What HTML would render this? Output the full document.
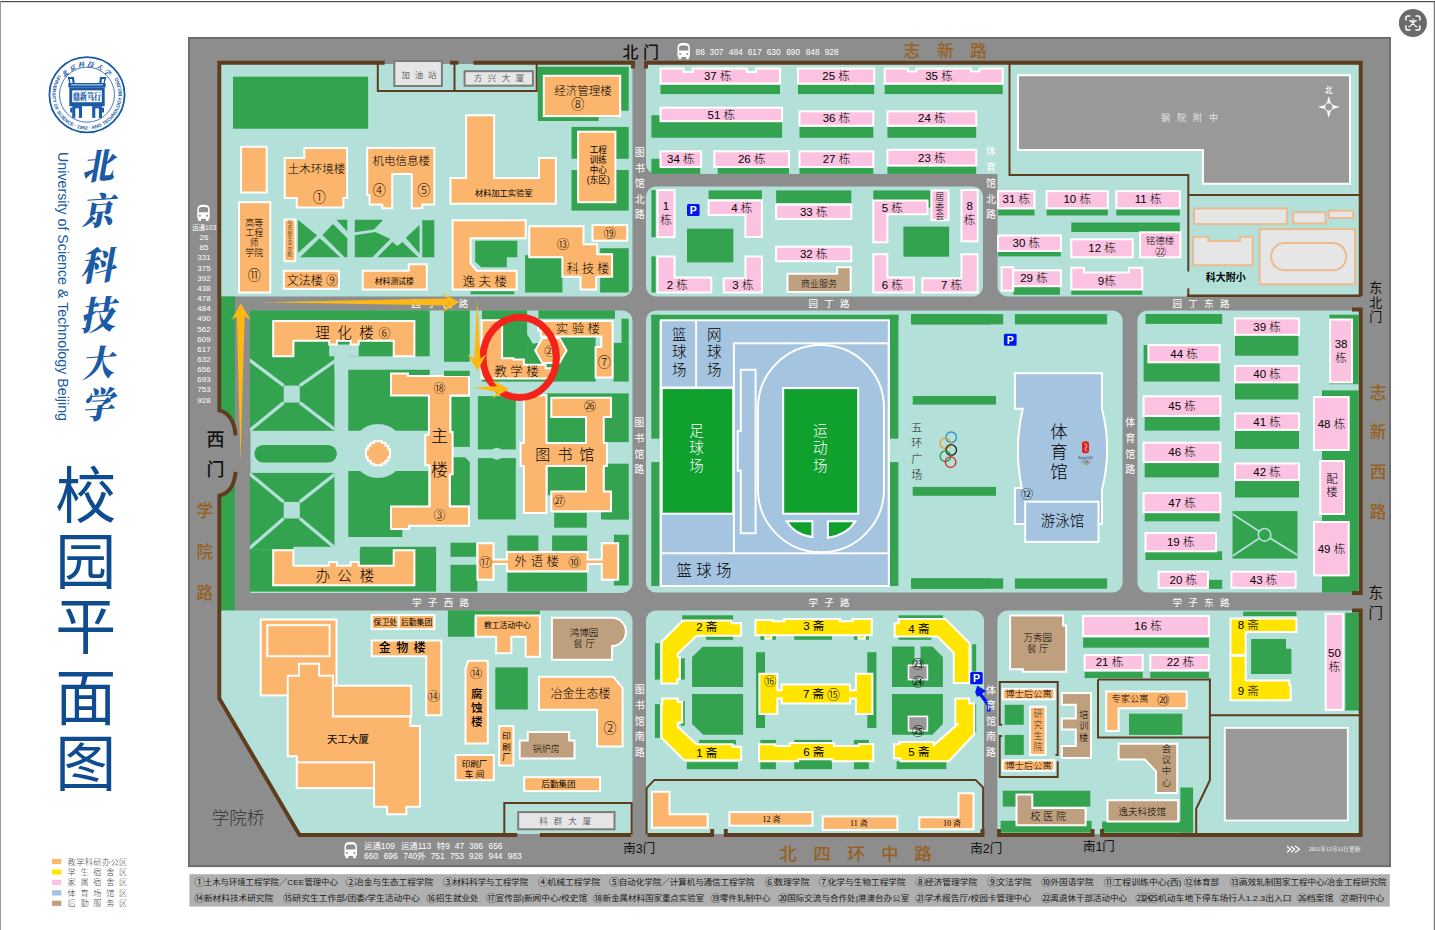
<!DOCTYPE html>
<html lang="zh"><head><meta charset="utf-8"><title>北京科技大学 校园平面图</title>
<style>
html,body{margin:0;padding:0;background:#fff;overflow:hidden}
svg{display:block}
svg text{font-family:"Liberation Sans","Noto Sans CJK SC",sans-serif}
</style></head><body>
<svg font-weight="300" width="1435" height="930" viewBox="0 0 1435 930">
<rect x="0" y="0" width="1435" height="930" fill="#fff"/>
<rect x="0" y="1" width="1435" height="1.2" fill="#484848"/>
<rect x="0" y="1" width="1" height="929" fill="#9a9a9a"/>
<rect x="1433.800" y="1" width="1" height="929" fill="#5a5a5a"/>
<rect x="188.900" y="37.900" width="1201.200" height="828.300" fill="#8d8d8d" stroke="#6a6a6a" stroke-width="1.800"/>
<rect x="189.400" y="874.200" width="1200.400" height="32.400" fill="#b0b0b0"/>
<path d="M223.6 64H632.5V286.5A10 10 0 0 1 622.5 296.5H220.6V67A3 3 0 0 1 223.6 64Z" fill="#b3e0d8"/>
<path d="M646 64H1359V296.5H1007.5A10 10 0 0 1 997.5 286.5V174H656A10 10 0 0 1 646 164Z" fill="#b3e0d8"/>
<path d="M656 186.5H973A10 10 0 0 1 983 196.5V286.5A10 10 0 0 1 973 296.5H656A10 10 0 0 1 646 286.5V196.5A10 10 0 0 1 656 186.5Z" fill="#b3e0d8"/>
<rect x="220.6" y="296.5" width="14.4" height="314" fill="#33a34f"/>
<path d="M250.5 310.5H622.5A10 10 0 0 1 632.5 320.5V583A10 10 0 0 1 622.5 593H250.5V310.5Z" fill="#b3e0d8"/>
<path d="M656 310.5H1112.6A10 10 0 0 1 1122.6 320.5V582.5A10 10 0 0 1 1112.6 592.5H656A10 10 0 0 1 646 582.5V320.5A10 10 0 0 1 656 310.5Z" fill="#b3e0d8"/>
<path d="M1147.4 310.5H1359V592.5H1147.4A10 10 0 0 1 1137.4 582.5V320.5A10 10 0 0 1 1147.4 310.5Z" fill="#b3e0d8"/>
<path d="M220.6 610.5H622.5A10 10 0 0 1 632.5 620.5V834H300L220.6 700Z" fill="#b3e0d8"/>
<path d="M656 610.5H974A10 10 0 0 1 984 620.5V834H646V620.5A10 10 0 0 1 656 610.5Z" fill="#b3e0d8"/>
<path d="M1007.4 610.5H1359V834H997.4V620.5A10 10 0 0 1 1007.4 610.5Z" fill="#b3e0d8"/>
<polyline points="377.8,64 377.8,91.1 536.7,91.1 536.7,64" fill="none" stroke="#5e3d1e" stroke-width="2"/>
<polyline points="454.5,61.6 454.5,91.1" fill="none" stroke="#5e3d1e" stroke-width="2"/>
<rect x="394.3" y="61" width="47.6" height="25" fill="#e6e6e6" stroke="#7c7c7c" stroke-width="2"/>
<rect x="464.6" y="71.2" width="68.3" height="14.5" fill="#e6e6e6" stroke="#7c7c7c" stroke-width="2"/>
<text x="419.6" y="77.9" font-size="8.5" fill="#666" text-anchor="middle" font-weight="400" letter-spacing="1.2">加 油 站</text>
<text x="499.8" y="81.2" font-size="8.5" fill="#666" text-anchor="middle" font-weight="400" letter-spacing="1.6">方 兴 大 厦</text>
<rect x="233" y="76.7" width="135.1" height="52" fill="#33a34f"/>
<rect x="241.1" y="146.8" width="25.6" height="45.7" fill="#fbb56c" stroke="#ffffff" stroke-width="2.0"/>
<polygon points="284.7,157.9 304.3,157.9 304.3,148 347.1,148 347.1,198 343.4,198 343.4,207.6 296.8,207.6 296.8,198 284.7,198" fill="#fbb56c" stroke="#ffffff" stroke-width="2.0"/>
<text x="316.4" y="173.3" font-size="11.5" fill="#000" text-anchor="middle">土木环境楼</text>
<text x="319.4" y="201.6" font-size="13.1" fill="#000" text-anchor="middle">①</text>
<polygon points="367.2,148 434.3,148 434.3,204.6 422.3,204.6 422.3,208.2 411.8,208.2 411.8,173.9 392.2,173.9 392.2,208.2 382.3,208.2 382.3,204.6 369.6,204.6 369.6,195 367.2,195" fill="#fbb56c" stroke="#ffffff" stroke-width="2.0"/>
<text x="401.2" y="164.5" font-size="11.5" fill="#000" text-anchor="middle">机电信息楼</text>
<text x="379.3" y="195.2" font-size="13.1" fill="#000" text-anchor="middle">④</text>
<text x="423.8" y="195.2" font-size="13.1" fill="#000" text-anchor="middle">⑤</text>
<polygon points="466.1,115.2 494.1,115.2 494.1,178.1 539,178.1 539,157.9 555.8,157.9 555.8,203.7 450.5,203.7 450.5,178.1 466.1,178.1" fill="#fbb56c" stroke="#ffffff" stroke-width="2.0"/>
<text x="503.7" y="195.9" font-size="8.2" fill="#000" text-anchor="middle" font-weight="400">材料加工实验室</text>
<rect x="239" y="202.2" width="31.3" height="90.3" fill="#fbb56c" stroke="#ffffff" stroke-width="2.0"/>
<text x="254.3" y="225.7" font-size="9" fill="#000" text-anchor="middle">高等</text>
<text x="254.3" y="235.6" font-size="9" fill="#000" text-anchor="middle">工程</text>
<text x="254.3" y="245.5" font-size="9" fill="#000" text-anchor="middle">师</text>
<text x="254.3" y="255.5" font-size="9" fill="#000" text-anchor="middle">学院</text>
<text x="254.3" y="280.4" font-size="13.1" fill="#000" text-anchor="middle">⑪</text>
<rect x="284.4" y="219.6" width="10.9" height="41.6" fill="#fbb56c" stroke="#ffffff" stroke-width="2.0"/>
<text x="289.9" y="224.1" font-size="4.6" fill="#333" text-anchor="middle" font-weight="400">马</text>
<text x="289.9" y="229.4" font-size="4.6" fill="#333" text-anchor="middle" font-weight="400">克</text>
<text x="289.9" y="234.7" font-size="4.6" fill="#333" text-anchor="middle" font-weight="400">思</text>
<text x="289.9" y="240" font-size="4.6" fill="#333" text-anchor="middle" font-weight="400">主</text>
<text x="289.9" y="245.3" font-size="4.6" fill="#333" text-anchor="middle" font-weight="400">义</text>
<text x="289.9" y="250.6" font-size="4.6" fill="#333" text-anchor="middle" font-weight="400">学</text>
<text x="289.9" y="255.9" font-size="4.6" fill="#333" text-anchor="middle" font-weight="400">院</text>
<polygon points="297.9,219.8 317.1,235.6 297.9,253.1" fill="#33a34f"/>
<polygon points="300.1,257.3 319.7,238.2 340.2,257.3" fill="#33a34f"/>
<polygon points="322.5,234.9 333,223.9 347.3,238.2 347.3,257.3 344.7,257.3" fill="#33a34f"/>
<polygon points="336.4,219.8 347.3,219.8 347.3,231.5" fill="#33a34f"/>
<polygon points="354.8,219.8 383.2,219.8 374,229.4 354.8,232.2" fill="#33a34f"/>
<polygon points="354.8,235.2 375.4,231.9 390.4,238.9 372.3,257.3 354.8,257.3" fill="#33a34f"/>
<polygon points="377.4,257.3 392.4,241.9 397.4,246.1 402.4,241.9 418.3,257.3" fill="#33a34f"/>
<polygon points="405.8,237.7 419.5,224.9 419.5,253.6" fill="#33a34f"/>
<rect x="422.3" y="220.2" width="12" height="37.1" fill="#33a34f"/>
<rect x="283.8" y="270.8" width="55.1" height="18.1" fill="#fbb56c" stroke="#ffffff" stroke-width="2.0"/>
<text x="312.4" y="285.3" font-size="12" fill="#000" text-anchor="middle">文法楼 ⑨</text>
<polygon points="362.7,270.8 408.8,270.8 408.8,264.2 426.8,264.2 426.8,289.5 362.7,289.5" fill="#fbb56c" stroke="#ffffff" stroke-width="2.0"/>
<text x="394.3" y="283.7" font-size="7.8" fill="#000" text-anchor="middle" font-weight="400">材料测试楼</text>
<rect x="470.6" y="291.3" width="43.7" height="3" fill="#33a34f"/>
<rect x="525.1" y="255.2" width="37.3" height="37.3" fill="#33a34f"/>
<polygon points="452.6,220.2 525.7,220.2 525.7,238.3 470.6,238.3 470.6,263.3 476.7,270.8 516.7,270.8 516.7,289.5 452.6,289.5" fill="#fbb56c" stroke="#ffffff" stroke-width="2.0"/>
<polygon points="475.2,240.7 517.3,240.7 517.3,257.3 506.8,257.3 506.8,267.2 481.2,267.2 475.2,261.8" fill="#33a34f"/>
<text x="484.8" y="285.9" font-size="12.5" fill="#000" text-anchor="middle">逸 夫 楼</text>
<rect x="600.1" y="248.2" width="28.6" height="44.3" fill="#33a34f"/>
<polygon points="529.3,226.3 583.5,226.3 583.5,244.3 597.1,244.3 597.1,254.2 612.1,254.2 612.1,276.8 596.2,276.8 596.2,289.5 580.5,289.5 580.5,276.8 562.4,276.8 562.4,257.3 529.3,257.3" fill="#fbb56c" stroke="#ffffff" stroke-width="2.0"/>
<text x="563" y="248.5" font-size="12.5" fill="#000" text-anchor="middle">⑬</text>
<text x="588" y="272.6" font-size="12" fill="#000" text-anchor="middle">科 技 楼</text>
<rect x="592.5" y="225.1" width="34.7" height="15.6" fill="#fbb56c" stroke="#ffffff" stroke-width="2.0"/>
<text x="609.7" y="238.3" font-size="12.5" fill="#000" text-anchor="middle">⑲</text>
<polygon points="537.8,66.7 628.7,66.7 628.7,110.7 616.6,110.7 616.6,117.3 598.6,117.3 598.6,120.9 537.8,120.9" fill="#33a34f"/>
<rect x="543.8" y="75.8" width="76.4" height="40.3" fill="#fbb56c" stroke="#ffffff" stroke-width="2.0"/>
<text x="582.9" y="95.3" font-size="11.5" fill="#000" text-anchor="middle">经济管理楼</text>
<text x="577.8" y="108.9" font-size="13.1" fill="#000" text-anchor="middle">⑧</text>
<rect x="571.5" y="126.9" width="57.2" height="31.9" fill="#33a34f"/>
<rect x="571.5" y="170" width="57.2" height="40.6" fill="#33a34f"/>
<rect x="578.1" y="131.7" width="37.3" height="70.5" fill="#fbb56c" stroke="#ffffff" stroke-width="2.0"/>
<text x="598.3" y="153.4" font-size="8.6" fill="#000" text-anchor="middle" font-weight="400">工程</text>
<text x="598.3" y="163.3" font-size="8.6" fill="#000" text-anchor="middle" font-weight="400">训练</text>
<text x="598.3" y="173.3" font-size="8.6" fill="#000" text-anchor="middle" font-weight="400">中心</text>
<text x="598.3" y="183.2" font-size="8.6" fill="#000" text-anchor="middle" font-weight="400">(东区)</text>
<rect x="660.5" y="84.8" width="119.5" height="9.3" fill="#33a34f"/>
<polygon points="660.5,68.5 683.6,68.5 683.6,72.1 692.7,72.1 692.7,68.5 746.9,68.5 746.9,72.1 755.9,72.1 755.9,68.5 780,68.5 780,83.6 660.5,83.6" fill="#fcc2e2" stroke="#ffffff" stroke-width="2.0"/>
<text x="717.7" y="80" font-size="11.5" fill="#000" text-anchor="middle">37 栋</text>
<rect x="798" y="84.8" width="76.2" height="9.3" fill="#33a34f"/>
<rect x="798" y="68.5" width="76.2" height="15.1" fill="#fcc2e2" stroke="#ffffff" stroke-width="2.0"/>
<text x="836.1" y="80" font-size="11.5" fill="#000" text-anchor="middle">25 栋</text>
<rect x="884.7" y="84.8" width="118" height="9.3" fill="#33a34f"/>
<polygon points="884.7,68.5 907.9,68.5 907.9,71.5 916.3,71.5 916.3,68.5 971.1,68.5 971.1,71.5 979.5,71.5 979.5,68.5 1002.7,68.5 1002.7,83.6 884.7,83.6" fill="#fcc2e2" stroke="#ffffff" stroke-width="2.0"/>
<text x="938.9" y="80" font-size="11.5" fill="#000" text-anchor="middle">35 栋</text>
<polygon points="651.4,115.2 660.5,115.2 660.5,121.2 782.1,121.2 782.1,137.8 651.4,137.8" fill="#33a34f"/>
<rect x="660.5" y="107.7" width="121.6" height="13.5" fill="#fcc2e2" stroke="#ffffff" stroke-width="2.0"/>
<text x="721.3" y="118.5" font-size="11.5" fill="#000" text-anchor="middle">51 栋</text>
<rect x="799.5" y="126.9" width="73.8" height="10.9" fill="#33a34f"/>
<rect x="799.5" y="111.3" width="73.8" height="14.4" fill="#fcc2e2" stroke="#ffffff" stroke-width="2.0"/>
<text x="836.4" y="122.4" font-size="11.5" fill="#000" text-anchor="middle">36 栋</text>
<rect x="887.4" y="126.9" width="88.8" height="10.9" fill="#33a34f"/>
<rect x="887.4" y="111.3" width="88.8" height="14.4" fill="#fcc2e2" stroke="#ffffff" stroke-width="2.0"/>
<text x="931.8" y="122.4" font-size="11.5" fill="#000" text-anchor="middle">24 栋</text>
<rect x="651.4" y="158.8" width="48.8" height="15.1" fill="#33a34f"/>
<rect x="660.5" y="151.3" width="40.6" height="15.7" fill="#fcc2e2" stroke="#ffffff" stroke-width="2.0"/>
<text x="680.8" y="163" font-size="11.5" fill="#000" text-anchor="middle">34 栋</text>
<rect x="717.7" y="167.9" width="71.3" height="6" fill="#33a34f"/>
<rect x="714.3" y="151.3" width="74.7" height="15.7" fill="#fcc2e2" stroke="#ffffff" stroke-width="2.0"/>
<text x="751.7" y="163" font-size="11.5" fill="#000" text-anchor="middle">26 栋</text>
<rect x="799.5" y="167.9" width="73.8" height="6" fill="#33a34f"/>
<rect x="799.5" y="151.3" width="73.8" height="15.7" fill="#fcc2e2" stroke="#ffffff" stroke-width="2.0"/>
<text x="836.4" y="163" font-size="11.5" fill="#000" text-anchor="middle">27 栋</text>
<rect x="887.4" y="166.4" width="88.8" height="7.5" fill="#33a34f"/>
<rect x="887.4" y="149.8" width="88.8" height="15.7" fill="#fcc2e2" stroke="#ffffff" stroke-width="2.0"/>
<text x="931.8" y="161.5" font-size="11.5" fill="#000" text-anchor="middle">23 栋</text>
<rect x="651.4" y="190.1" width="4.3" height="47" fill="#33a34f"/>
<rect x="657.5" y="190.1" width="17.1" height="47" fill="#fcc2e2" stroke="#ffffff" stroke-width="2.0"/>
<text x="665.9" y="210" font-size="11.5" fill="#000" text-anchor="middle">1</text>
<text x="665.9" y="224.4" font-size="11.5" fill="#000" text-anchor="middle">栋</text>
<rect x="687" y="204" width="12.6" height="12" fill="#0018f0" rx="1.5"/>
<text x="693.3" y="214.2" font-size="10.5" fill="#fff" text-anchor="middle" font-weight="bold">P</text>
<rect x="708.6" y="190.4" width="53.3" height="8.8" fill="#33a34f"/>
<polygon points="708.6,200.4 761.9,200.4 761.9,237.1 745.4,237.1 745.4,215.1 708.6,215.1" fill="#fcc2e2" stroke="#ffffff" stroke-width="2.0"/>
<text x="741.7" y="211.5" font-size="11.5" fill="#000" text-anchor="middle">4 栋</text>
<rect x="687" y="228.7" width="46.3" height="33.7" fill="#33a34f"/>
<rect x="651.4" y="256.4" width="4.3" height="36.1" fill="#33a34f"/>
<polygon points="657.5,256.4 674.6,256.4 674.6,277.4 711.3,277.4 711.3,292.5 657.5,292.5" fill="#fcc2e2" stroke="#ffffff" stroke-width="2.0"/>
<text x="677.3" y="289.2" font-size="11.5" fill="#000" text-anchor="middle">2 栋</text>
<polygon points="745.4,256.4 761.9,256.4 761.9,292.5 723.7,292.5 723.7,278.3 745.4,278.3" fill="#fcc2e2" stroke="#ffffff" stroke-width="2.0"/>
<text x="742.9" y="289.2" font-size="11.5" fill="#000" text-anchor="middle">3 栋</text>
<rect x="776.1" y="190.4" width="75.2" height="12.7" fill="#33a34f"/>
<rect x="776.1" y="204.6" width="75.2" height="14.4" fill="#fcc2e2" stroke="#ffffff" stroke-width="2.0"/>
<text x="813.7" y="215.7" font-size="11.5" fill="#000" text-anchor="middle">33 栋</text>
<rect x="776.1" y="246.7" width="75.2" height="14.5" fill="#fcc2e2" stroke="#ffffff" stroke-width="2.0"/>
<text x="813.7" y="257.9" font-size="11.5" fill="#000" text-anchor="middle">32 栋</text>
<polygon points="787.5,273.8 837.2,273.8 837.2,267.2 850.7,267.2 850.7,291.9 787.5,291.9" fill="#bfa07e" stroke="#ffffff" stroke-width="2.0"/>
<text x="819.1" y="286.5" font-size="9" fill="#000" text-anchor="middle">商业服务</text>
<rect x="873.3" y="190.4" width="58.1" height="17.2" fill="#33a34f"/>
<polygon points="873.3,200.4 927.5,200.4 927.5,214.2 887.4,214.2 887.4,242.2 873.3,242.2" fill="#fcc2e2" stroke="#ffffff" stroke-width="2.0"/>
<text x="892.2" y="211.5" font-size="11.5" fill="#000" text-anchor="middle">5 栋</text>
<rect x="931.4" y="190.4" width="17.1" height="29.8" fill="#fcc2e2" stroke="#ffffff" stroke-width="2.0"/>
<text x="939.8" y="200.4" font-size="9" fill="#000" text-anchor="middle" font-weight="300">居</text>
<text x="939.8" y="209.9" font-size="9" fill="#000" text-anchor="middle" font-weight="300">委</text>
<text x="939.8" y="219.4" font-size="9" fill="#000" text-anchor="middle" font-weight="300">会</text>
<rect x="961.5" y="190.1" width="16.2" height="51.2" fill="#fcc2e2" stroke="#ffffff" stroke-width="2.0"/>
<text x="969.6" y="210" font-size="11.5" fill="#000" text-anchor="middle">8</text>
<text x="969.6" y="224.4" font-size="11.5" fill="#000" text-anchor="middle">栋</text>
<rect x="903.4" y="226.6" width="45.7" height="30.1" fill="#33a34f"/>
<polygon points="873.3,254.2 887.4,254.2 887.4,277.4 913.9,277.4 913.9,292.5 873.3,292.5" fill="#fcc2e2" stroke="#ffffff" stroke-width="2.0"/>
<text x="892.2" y="289.2" font-size="11.5" fill="#000" text-anchor="middle">6 栋</text>
<polygon points="961.5,254.2 977.7,254.2 977.7,292.5 922.3,292.5 922.3,278.3 961.5,278.3" fill="#fcc2e2" stroke="#ffffff" stroke-width="2.0"/>
<text x="951.5" y="289.2" font-size="11.5" fill="#000" text-anchor="middle">7 栋</text>
<polyline points="1009.5,61.7 1009.5,174.9 1188.3,174.9 1188.3,271.6" fill="none" stroke="#5e3d1e" stroke-width="2"/>
<polyline points="1188.3,288.4 1188.3,296.3" fill="none" stroke="#5e3d1e" stroke-width="2"/>
<polyline points="1188.3,194.9 1360.5,194.9" fill="none" stroke="#5e3d1e" stroke-width="2"/>
<polygon points="1018,75.3 1350,75.3 1350,183.8 1202.9,183.8 1202.9,149.9 1018,149.9" fill="#999999" stroke="#ffffff" stroke-width="2.0"/>
<text x="1193.1" y="121.3" font-size="9" fill="#e6e6e6" text-anchor="middle" font-weight="400" letter-spacing="7">钢院附中</text>
<g fill="#fff" stroke="none"><polygon points="1328.8,96.0 1326.6,104.0 1331.0,104.0"/><polygon points="1328.8,118.0 1326.6,110.0 1331.0,110.0"/><polygon points="1317.8,107.0 1325.8,104.8 1325.8,109.2"/><polygon points="1339.8,107.0 1331.8,104.8 1331.8,109.2"/></g>
<circle cx="1328.8" cy="107.0" r="4.2" fill="#999" stroke="#fff" stroke-width="1"/>
<text x="1328.8" y="92.8" font-size="7.5" fill="#fff" text-anchor="middle" font-weight="500">北</text>
<rect x="1194" y="208.5" width="92.9" height="15.6" fill="#e6e6e6" stroke="#ebba8d" stroke-width="2"/>
<rect x="1293.3" y="212.3" width="32.3" height="11.1" fill="#e6e6e6" stroke="#ebba8d" stroke-width="2"/>
<rect x="1328.8" y="210.7" width="24.4" height="7.3" fill="#e6e6e6" stroke="#ebba8d" stroke-width="2"/>
<rect x="1259.7" y="229.1" width="95.4" height="55.2" fill="#e6e6e6" stroke="#ebba8d" stroke-width="2"/>
<rect x="1271.1" y="243.1" width="75.1" height="27.2" fill="#e6e6e6" stroke="#ebba8d" stroke-width="2" rx="13.5"/>
<polygon points="1193.1,236.7 1208.3,236.7 1208.3,240.9 1240,240.9 1240,236.7 1252.7,236.7 1252.7,265.3 1193.1,265.3" fill="#e6e6e6" stroke="#ebba8d" stroke-width="2"/>
<text x="1225.7" y="281.4" font-size="10" fill="#000" text-anchor="middle" font-weight="bold">科大附小</text>
<rect x="998.1" y="209.5" width="36.4" height="6" fill="#33a34f"/>
<rect x="998.1" y="191.1" width="36.4" height="17.1" fill="#fcc2e2" stroke="#ffffff" stroke-width="2.0"/>
<text x="1016.3" y="203.4" font-size="11.5" fill="#000" text-anchor="middle">31 栋</text>
<rect x="1046.6" y="209.5" width="61.2" height="6" fill="#33a34f"/>
<rect x="1046.6" y="191.1" width="61.2" height="17.1" fill="#fcc2e2" stroke="#ffffff" stroke-width="2.0"/>
<text x="1077.2" y="203.4" font-size="11.5" fill="#000" text-anchor="middle">10 栋</text>
<rect x="1116.3" y="209.5" width="63.5" height="6" fill="#33a34f"/>
<rect x="1116.3" y="191.1" width="63.5" height="17.1" fill="#fcc2e2" stroke="#ffffff" stroke-width="2.0"/>
<text x="1148.1" y="203.4" font-size="11.5" fill="#000" text-anchor="middle">11 栋</text>
<rect x="1071.3" y="222.5" width="108.5" height="9.5" fill="#33a34f"/>
<rect x="998.1" y="252" width="62.8" height="4.4" fill="#33a34f"/>
<rect x="998.1" y="235.5" width="62.8" height="15.5" fill="#fcc2e2" stroke="#ffffff" stroke-width="2.0"/>
<text x="1026.3" y="246.9" font-size="11.5" fill="#000" text-anchor="middle">30 栋</text>
<rect x="1071.3" y="239.3" width="61.5" height="18" fill="#fcc2e2" stroke="#ffffff" stroke-width="2.0"/>
<text x="1102.1" y="252.1" font-size="11.5" fill="#000" text-anchor="middle">12 栋</text>
<rect x="1140.1" y="232.3" width="40.3" height="25" fill="#fcc2e2" stroke="#ffffff" stroke-width="2.0"/>
<text x="1160.1" y="243.7" font-size="9.5" fill="#000" text-anchor="middle">铭德楼</text>
<text x="1160.7" y="256.3" font-size="11.3" fill="#000" text-anchor="middle">㉒</text>
<rect x="1013.3" y="286.8" width="46.6" height="8" fill="#33a34f"/>
<rect x="1001.6" y="267.2" width="11.7" height="23.4" fill="#fcc2e2" stroke="#ffffff" stroke-width="2.0"/>
<rect x="1013.3" y="270.3" width="47.6" height="15.9" fill="#fcc2e2" stroke="#ffffff" stroke-width="2.0"/>
<text x="1033.9" y="282.1" font-size="11.5" fill="#000" text-anchor="middle">29 栋</text>
<rect x="1071.3" y="290" width="71" height="4.8" fill="#33a34f"/>
<polygon points="1071.3,267.8 1084,267.8 1084,272.6 1129,272.6 1129,267.8 1142.3,267.8 1142.3,289.4 1071.3,289.4" fill="#fcc2e2" stroke="#ffffff" stroke-width="2.0"/>
<text x="1106.8" y="285.2" font-size="11.5" fill="#000" text-anchor="middle">9栋</text>
<rect x="249.8" y="310.3" width="179.9" height="46" fill="#33a34f"/>
<rect x="249.8" y="355" width="84.7" height="75.8" fill="#33a34f"/>
<rect x="329.2" y="344.5" width="29.5" height="11.8" fill="#b3e0d8"/>
<rect x="334.5" y="356.3" width="13.7" height="13.2" fill="#b3e0d8"/>
<clipPath id="cg1"><rect x="249.8" y="350" width="84.7" height="81"/></clipPath><g clip-path="url(#cg1)">
<polyline points="248.2,359 283.7,385.6" fill="none" stroke="#b3e0d8" stroke-width="3.3"/>
<polyline points="337.7,359 299.8,385.6" fill="none" stroke="#b3e0d8" stroke-width="3.3"/>
<polyline points="248.2,431.6 283.7,402.6" fill="none" stroke="#b3e0d8" stroke-width="3.3"/>
<polyline points="337.7,431.6 299.8,402.6" fill="none" stroke="#b3e0d8" stroke-width="3.3"/>
<rect x="283.7" y="385.6" width="16.1" height="17" fill="#b3e0d8"/>
</g>
<rect x="335" y="356.3" width="13.2" height="74.5" fill="#b3e0d8"/>
<polygon points="348.2,369.8 429.7,369.8 429.7,430.8 348.2,430.8" fill="#33a34f"/>
<rect x="254.4" y="445" width="82.5" height="17.6" fill="#33a34f" rx="8.8"/>
<rect x="249.8" y="472.9" width="84.7" height="76.3" fill="#33a34f"/>
<clipPath id="cg2"><rect x="249.8" y="472.9" width="84.7" height="78"/></clipPath><g clip-path="url(#cg2)">
<polyline points="246.6,471.3 283.7,501.9" fill="none" stroke="#b3e0d8" stroke-width="3.3"/>
<polyline points="338.5,471.3 299.8,501.9" fill="none" stroke="#b3e0d8" stroke-width="3.3"/>
<polyline points="246.6,550.8 283.7,518.5" fill="none" stroke="#b3e0d8" stroke-width="3.3"/>
<polyline points="338.5,550.8 299.8,518.5" fill="none" stroke="#b3e0d8" stroke-width="3.3"/>
<rect x="283.7" y="501.9" width="16.1" height="16.6" fill="#b3e0d8"/>
</g>
<polygon points="348.2,471 428.1,471 428.1,506.5 391,506.5 391,529 402.3,529 402.3,537.1 348.2,537.1" fill="#33a34f"/>
<circle cx="378" cy="451" r="27" fill="#b3e0d8"/>
<rect x="249.8" y="549.2" width="186.3" height="42.4" fill="#33a34f"/>
<rect x="293.4" y="546.8" width="66.4" height="19" fill="#b3e0d8"/>
<rect x="360.3" y="546.8" width="75.8" height="3.2" fill="#33a34f"/>
<polygon points="273.2,321.1 414.4,321.1 414.4,356.3 393.7,356.3 393.7,340.8 358.7,340.8 358.7,344.5 350.6,344.5 350.6,340.8 336.9,340.8 336.9,344.5 329.2,344.5 329.2,340.8 293.4,340.8 293.4,356.3 273.2,356.3" fill="#fbb56c" stroke="#ffffff" stroke-width="2.0"/>
<text x="322.4" y="337.5" font-size="14.5" fill="#000" text-anchor="middle">理</text>
<text x="344.4" y="337.5" font-size="14.5" fill="#000" text-anchor="middle">化</text>
<text x="366.6" y="337.5" font-size="14.5" fill="#000" text-anchor="middle">楼</text>
<text x="384.6" y="338.2" font-size="12.0" fill="#000" text-anchor="middle">⑥</text>
<polygon points="273.2,550.3 293.4,550.3 293.4,565.8 328.9,565.8 328.9,562.1 336.9,562.1 336.9,565.8 350.6,565.8 350.6,562.1 358.7,562.1 358.7,565.8 393.7,565.8 393.7,550.3 414.4,550.3 414.4,585.2 273.2,585.2" fill="#fbb56c" stroke="#ffffff" stroke-width="2.0"/>
<text x="323" y="580.6" font-size="14.5" fill="#000" text-anchor="middle">办</text>
<text x="344.6" y="580.6" font-size="14.5" fill="#000" text-anchor="middle">公</text>
<text x="366.9" y="580.6" font-size="14.5" fill="#000" text-anchor="middle">楼</text>
<polygon points="382,441.3 382,443.1 385.5,443.1 385.5,445.8 388.2,445.8 388.2,449.3 390,449.3 390,457.3 388.2,457.3 388.2,460.8 385.5,460.8 385.5,463.5 382,463.5 382,465.3 374,465.3 374,463.5 370.5,463.5 370.5,460.8 367.8,460.8 367.8,457.3 366,457.3 366,449.3 367.8,449.3 367.8,445.8 370.5,445.8 370.5,443.1 374,443.1 374,441.3" fill="#fbb56c" stroke="#ffffff" stroke-width="2.0"/>
<rect x="451.3" y="396.9" width="18.5" height="50" fill="#33a34f"/>
<polygon points="451,457.3 465,457.3 469.8,462.1 469.8,505.6 451,505.6" fill="#33a34f"/>
<rect x="477.9" y="396.1" width="37.9" height="53.3" fill="#33a34f"/>
<rect x="477.9" y="458.1" width="37.9" height="61.3" fill="#33a34f"/>
<circle cx="496.8" cy="453.7" r="6" fill="#b3e0d8"/>
<rect x="466" y="450.5" width="16" height="6.5" fill="#b3e0d8"/>
<polygon points="391,373.5 408,373.5 408,376 469,376 469,395.6 450.3,395.6 450.3,432 452.6,432 452.6,474.2 449.7,474.2 449.7,506.5 469,506.5 469,525.8 409,525.8 409,529 391,529 391,506.5 429.7,506.5 429.7,465.3 425.3,465.3 425.3,434.8 428.9,434.8 428.9,395.6 391,395.6" fill="#fbb56c" stroke="#ffffff" stroke-width="2.0"/>
<text x="439.5" y="393.2" font-size="12.0" fill="#000" text-anchor="middle">⑱</text>
<text x="439.5" y="442" font-size="17" fill="#000" text-anchor="middle">主</text>
<text x="439.5" y="476" font-size="17" fill="#000" text-anchor="middle">楼</text>
<text x="439.5" y="519.7" font-size="12.0" fill="#000" text-anchor="middle">③</text>
<rect x="444" y="310.3" width="25.8" height="51.5" fill="#33a34f"/>
<rect x="444" y="370.8" width="25.8" height="5.2" fill="#33a34f"/>
<rect x="481.9" y="310.3" width="45.2" height="71.3" fill="#33a34f"/>
<rect x="527.1" y="336.5" width="68.5" height="45.1" fill="#33a34f"/>
<rect x="538.4" y="310.3" width="76.6" height="8.4" fill="#33a34f"/>
<rect x="621.5" y="318.7" width="7.2" height="24.2" fill="#33a34f"/>
<rect x="613.4" y="342.9" width="15.3" height="38.7" fill="#33a34f"/>
<polygon points="527.1,334 532.7,343.7 527.1,343.7" fill="#33a34f"/>
<polygon points="538.4,334.8 545.6,334.8 541.3,342.4 532.7,343.7 527.1,334 538.4,334" fill="#b3e0d8"/>
<polygon points="481.6,320.3 502.1,320.3 502.1,358.2 513.4,358.2 513.4,359.5 523.9,359.5 523.9,364.7 545.6,364.7 545.6,368.2 551.3,368.2 551.3,378.4 481.6,378.4" fill="#fbb56c" stroke="#ffffff" stroke-width="2.0"/>
<text x="516.6" y="376" font-size="12.5" fill="#000" text-anchor="middle">教 学 楼</text>
<polygon points="538.4,321.1 612.6,321.1 612.6,377.6 595.6,377.6 595.6,346.9 601.3,346.9 601.3,336.5 540.8,336.5 540.8,330.8 538.4,330.8" fill="#fbb56c" stroke="#ffffff" stroke-width="2.0"/>
<text x="577.9" y="333.2" font-size="12.5" fill="#000" text-anchor="middle">实 验 楼</text>
<text x="604.2" y="366.7" font-size="13.1" fill="#000" text-anchor="middle">⑦</text>
<polygon points="535.2,350.6 542.4,338.1 559.4,338.1 566.6,350.6 559.4,363.1 542.4,363.1" fill="#fbb56c" stroke="#ffffff" stroke-width="2.0"/>
<text x="550.6" y="355.9" font-size="12.5" fill="#000" text-anchor="middle">㉑</text>
<rect x="546.5" y="393.4" width="82.2" height="48.7" fill="#33a34f"/>
<rect x="547.7" y="466.1" width="38.3" height="29.1" fill="#33a34f"/>
<rect x="604.5" y="463.7" width="24.2" height="55.7" fill="#33a34f"/>
<rect x="601" y="512.1" width="27.7" height="7.3" fill="#33a34f"/>
<rect x="554.2" y="512.9" width="32.6" height="14.8" fill="#33a34f"/>
<polygon points="523.9,395.3 546.5,395.3 546.5,442.9 586,442.9 586,417.1 551.3,417.1 551.3,397.7 611,397.7 611,417.1 603.7,417.1 603.7,442.9 606.9,442.9 606.9,466.1 603.7,466.1 603.7,491.6 611,491.6 611,511.3 551.3,511.3 551.3,491.6 586,491.6 586,466.1 546.5,466.1 546.5,512.9 523.9,512.9 523.9,466.1 520.6,466.1 520.6,442.9 523.9,442.9" fill="#fbb56c" stroke="#ffffff" stroke-width="2.0"/>
<text x="542.8" y="459.7" font-size="15" fill="#000" text-anchor="middle">图</text>
<text x="565.1" y="459.7" font-size="15" fill="#000" text-anchor="middle">书</text>
<text x="586.8" y="459.7" font-size="15" fill="#000" text-anchor="middle">馆</text>
<text x="590" y="411.4" font-size="12.5" fill="#000" text-anchor="middle">㉖</text>
<text x="559" y="505.6" font-size="12.5" fill="#000" text-anchor="middle">㉗</text>
<rect x="450.5" y="542.7" width="25.8" height="14.1" fill="#33a34f"/>
<rect x="450.5" y="564.8" width="26.9" height="26.8" fill="#33a34f"/>
<rect x="507.4" y="535.5" width="31" height="15.3" fill="#33a34f"/>
<rect x="552.1" y="535.5" width="35" height="15.3" fill="#33a34f"/>
<rect x="507.4" y="572.6" width="79.7" height="19" fill="#33a34f"/>
<rect x="613.9" y="534.7" width="14.8" height="50.8" fill="#33a34f"/>
<polygon points="477.4,543.2 493.5,543.2 493.5,559.4 506.9,559.4 506.9,551.9 587.6,551.9 587.6,559.4 601.8,559.4 601.8,543.2 618.2,543.2 618.2,579.8 601.8,579.8 601.8,564 587.6,564 587.6,571.3 506.9,571.3 506.9,564 493.5,564 493.5,579.8 477.4,579.8" fill="#fbb56c" stroke="#ffffff" stroke-width="2.0"/>
<text x="536.8" y="565.8" font-size="12.5" fill="#000" text-anchor="middle">外 语 楼</text>
<text x="485.5" y="566.8" font-size="12.5" fill="#000" text-anchor="middle">⑰</text>
<text x="574.4" y="566.8" font-size="12.5" fill="#000" text-anchor="middle">⑩</text>
<rect x="651.3" y="314.8" width="247.1" height="5.5" fill="#33a34f"/>
<rect x="651.3" y="314.8" width="8" height="123.9" fill="#33a34f"/>
<rect x="651.3" y="462.1" width="8" height="123.9" fill="#33a34f"/>
<rect x="889.8" y="314.8" width="8.6" height="123.9" fill="#33a34f"/>
<rect x="889.8" y="462.1" width="8.6" height="123.9" fill="#33a34f"/>
<rect x="661" y="320.3" width="227.8" height="265.7" fill="#a5c4e0" stroke="#ffffff" stroke-width="2"/>
<polyline points="696.1,320.3 696.1,387.4" fill="none" stroke="#ffffff" stroke-width="2"/>
<polyline points="661,387.4 733.2,387.4" fill="none" stroke="#ffffff" stroke-width="2"/>
<rect x="733.9" y="343.3" width="154.9" height="210" fill="none" stroke="#ffffff" stroke-width="2"/>
<polyline points="661,553.3 733.9,553.3" fill="none" stroke="#ffffff" stroke-width="2"/>
<rect x="661.7" y="388.1" width="71.5" height="125.6" fill="#0fa02e" stroke="#ffffff" stroke-width="2"/>
<polygon points="740.8,369.8 755.6,369.8 755.6,533.3 740.8,533.3 740.8,470.7 737.7,470.7 737.7,431.1 740.8,431.1" fill="none" stroke="#ffffff" stroke-width="2"/>
<rect x="758" y="345.1" width="126" height="207.2" fill="none" stroke="#ffffff" stroke-width="2" rx="63"/>
<rect x="783.2" y="388.1" width="75" height="125.6" fill="#0fa02e" stroke="#ffffff" stroke-width="2"/>
<path d="M786.6 521.3H812.4V537.1Q795.2 535.0 786.6 521.3Z" fill="#0fa02e" stroke="#ffffff" stroke-width="2"/>
<path d="M855.4 521.3H827.9V537.8Q846.8 535.0 855.4 521.3Z" fill="#0fa02e" stroke="#ffffff" stroke-width="2"/>
<text x="679.2" y="339.9" font-size="14.5" fill="#000" text-anchor="middle">篮</text>
<text x="679.2" y="357.4" font-size="14.5" fill="#000" text-anchor="middle">球</text>
<text x="679.2" y="374.9" font-size="14.5" fill="#000" text-anchor="middle">场</text>
<text x="714.3" y="339.9" font-size="14.5" fill="#000" text-anchor="middle">网</text>
<text x="714.3" y="357.4" font-size="14.5" fill="#000" text-anchor="middle">球</text>
<text x="714.3" y="374.9" font-size="14.5" fill="#000" text-anchor="middle">场</text>
<text x="696.4" y="435.9" font-size="14.5" fill="#fff" text-anchor="middle">足</text>
<text x="696.4" y="453.4" font-size="14.5" fill="#fff" text-anchor="middle">球</text>
<text x="696.4" y="470.9" font-size="14.5" fill="#fff" text-anchor="middle">场</text>
<text x="820.3" y="435.9" font-size="14.5" fill="#fff" text-anchor="middle">运</text>
<text x="820.3" y="453.4" font-size="14.5" fill="#fff" text-anchor="middle">动</text>
<text x="820.3" y="470.9" font-size="14.5" fill="#fff" text-anchor="middle">场</text>
<text x="704" y="576.3" font-size="15.5" fill="#000" text-anchor="middle">篮 球 场</text>
<rect x="911.5" y="314.1" width="78.5" height="10.3" fill="#33a34f"/>
<rect x="911" y="314.1" width="92.2" height="10.3" fill="#33a34f"/>
<rect x="1014.9" y="314.1" width="92.2" height="10.3" fill="#33a34f"/>
<rect x="912.7" y="396" width="83.3" height="8.6" fill="#33a34f"/>
<rect x="912.7" y="486.9" width="83.3" height="8.9" fill="#33a34f"/>
<rect x="911.5" y="578.4" width="78.5" height="10.3" fill="#33a34f"/>
<rect x="911" y="578.4" width="92.2" height="10.3" fill="#33a34f"/>
<rect x="1014.9" y="578.4" width="92.2" height="10.3" fill="#33a34f"/>
<rect x="1003.9" y="333.7" width="12.7" height="12.1" fill="#0018f0" rx="1.5"/>
<text x="1010.3" y="344" font-size="10.5" fill="#fff" text-anchor="middle" font-weight="bold">P</text>
<text x="916.8" y="431.8" font-size="11" fill="#222" text-anchor="middle">五</text>
<text x="916.8" y="447.4" font-size="11" fill="#222" text-anchor="middle">环</text>
<text x="916.8" y="463" font-size="11" fill="#222" text-anchor="middle">广</text>
<text x="916.8" y="478.6" font-size="11" fill="#222" text-anchor="middle">场</text>
<circle cx="951.2" cy="437.3" r="5.3" fill="none" stroke="#2a8fd0" stroke-width="1.3"/>
<circle cx="945.4" cy="443.2" r="5.3" fill="none" stroke="#f0a020" stroke-width="1.3"/>
<circle cx="951.2" cy="450.0" r="5.3" fill="none" stroke="#222" stroke-width="1.3"/>
<circle cx="945.4" cy="456.2" r="5.3" fill="none" stroke="#2a9a40" stroke-width="1.3"/>
<circle cx="950.6" cy="462.1" r="5.3" fill="none" stroke="#e02020" stroke-width="1.3"/>
<path d="M1014.9 373.3H1102.0V408.7Q1112.3 449.0 1102.0 489.6V524.0H1014.9V487.9H1021.8Q1013.5 448.3 1022.8 408.7H1014.9Z" fill="#a5c4e0" stroke="#ffffff" stroke-width="2"/>
<rect x="1025.2" y="501.7" width="73.3" height="40.2" fill="#a5c4e0" stroke="#ffffff" stroke-width="2"/>
<text x="1059" y="438" font-size="17.5" fill="#000" text-anchor="middle">体</text>
<text x="1059" y="457.8" font-size="17.5" fill="#000" text-anchor="middle">育</text>
<text x="1059" y="477.6" font-size="17.5" fill="#000" text-anchor="middle">馆</text>
<text x="1062.4" y="526.4" font-size="14.5" fill="#000" text-anchor="middle">游泳馆</text>
<text x="1027" y="499.1" font-size="12.5" fill="#000" text-anchor="middle">⑫</text>
<rect x="1082.0" y="441.3" width="7" height="12" rx="2.5" fill="#e0201c"/>
<path d="M1085.0 443.3l2 3l-2 2l1.5 3" stroke="#fff" stroke-width="0.9" fill="none"/>
<text x="1085.5" y="459" font-size="2.6" fill="#333" text-anchor="middle" font-weight="400">Beijing 2008</text>
<circle cx="1082.5" cy="461.8" r="1.4" fill="none" stroke="#2a8fd0" stroke-width="0.4"/>
<circle cx="1085.5" cy="461.8" r="1.4" fill="none" stroke="#222" stroke-width="0.4"/>
<circle cx="1088.5" cy="461.8" r="1.4" fill="none" stroke="#e02020" stroke-width="0.4"/>
<circle cx="1084.0" cy="463.3" r="1.4" fill="none" stroke="#f0a020" stroke-width="0.4"/>
<circle cx="1087.0" cy="463.3" r="1.4" fill="none" stroke="#2a9a40" stroke-width="0.4"/>
<rect x="1145.5" y="314" width="76.7" height="9.9" fill="#33a34f"/>
<rect x="1143.6" y="345.1" width="76.1" height="36.5" fill="#33a34f"/>
<rect x="1148.4" y="345.1" width="71.3" height="17.2" fill="#fcc2e2" stroke="#ffffff" stroke-width="2.0"/>
<text x="1184" y="357.7" font-size="11.5" fill="#000" text-anchor="middle">44 栋</text>
<rect x="1144.7" y="416" width="75" height="14.6" fill="#33a34f"/>
<rect x="1143.6" y="396.3" width="76.8" height="19.7" fill="#fcc2e2" stroke="#ffffff" stroke-width="2.0"/>
<text x="1182" y="410.2" font-size="11.5" fill="#000" text-anchor="middle">45 栋</text>
<rect x="1144.7" y="462.1" width="74.2" height="15.3" fill="#33a34f"/>
<rect x="1143.6" y="442.7" width="76.8" height="19.4" fill="#fcc2e2" stroke="#ffffff" stroke-width="2.0"/>
<text x="1182" y="456.4" font-size="11.5" fill="#000" text-anchor="middle">46 栋</text>
<rect x="1144.7" y="512.9" width="75" height="8.4" fill="#33a34f"/>
<rect x="1143.6" y="493.1" width="76.8" height="19.1" fill="#fcc2e2" stroke="#ffffff" stroke-width="2.0"/>
<text x="1182" y="506.7" font-size="11.5" fill="#000" text-anchor="middle">47 栋</text>
<rect x="1145.5" y="551.3" width="76.7" height="8.7" fill="#33a34f"/>
<rect x="1145.5" y="533" width="70.5" height="18.3" fill="#fcc2e2" stroke="#ffffff" stroke-width="2.0"/>
<text x="1180.7" y="546.1" font-size="11.5" fill="#000" text-anchor="middle">19 栋</text>
<rect x="1208" y="579.8" width="14.2" height="9.1" fill="#33a34f"/>
<rect x="1158.6" y="571.7" width="49.4" height="16.1" fill="#fcc2e2" stroke="#ffffff" stroke-width="2.0"/>
<text x="1183.3" y="583.8" font-size="11.5" fill="#000" text-anchor="middle">20 栋</text>
<rect x="1235" y="334.8" width="63.3" height="20.9" fill="#33a34f"/>
<rect x="1235" y="318.4" width="64" height="16.4" fill="#fcc2e2" stroke="#ffffff" stroke-width="2.0"/>
<text x="1267" y="330.6" font-size="11.5" fill="#000" text-anchor="middle">39 栋</text>
<rect x="1235" y="382.4" width="63.3" height="17.1" fill="#33a34f"/>
<rect x="1235" y="365.9" width="64" height="16.5" fill="#fcc2e2" stroke="#ffffff" stroke-width="2.0"/>
<text x="1267" y="378.2" font-size="11.5" fill="#000" text-anchor="middle">40 栋</text>
<rect x="1235" y="429.9" width="64" height="19" fill="#33a34f"/>
<rect x="1235" y="413.4" width="64" height="16.5" fill="#fcc2e2" stroke="#ffffff" stroke-width="2.0"/>
<text x="1267" y="425.7" font-size="11.5" fill="#000" text-anchor="middle">41 栋</text>
<rect x="1235" y="480" width="64" height="17.5" fill="#33a34f"/>
<rect x="1235" y="463.5" width="64" height="16.5" fill="#fcc2e2" stroke="#ffffff" stroke-width="2.0"/>
<text x="1267" y="475.8" font-size="11.5" fill="#000" text-anchor="middle">42 栋</text>
<rect x="1232.5" y="511.1" width="65" height="47.5" fill="#33a34f"/>
<clipPath id="cg3"><rect x="1232.5" y="511.1" width="65.1" height="47.5"/></clipPath><g clip-path="url(#cg3)">
<polyline points="1232.5,514 1264.6,534.8 1232.5,556" fill="none" stroke="#b3e0d8" stroke-width="1.8"/>
<polyline points="1264.6,534.8 1297.5,554.9" fill="none" stroke="#b3e0d8" stroke-width="1.8"/>
</g>
<circle cx="1264.6" cy="534.8" r="6.3" fill="#33a34f" stroke="#b3e0d8" stroke-width="1.6"/>
<rect x="1231.4" y="571.7" width="64.3" height="16.1" fill="#fcc2e2" stroke="#ffffff" stroke-width="2.0"/>
<text x="1263.5" y="583.8" font-size="11.5" fill="#000" text-anchor="middle">43 栋</text>
<rect x="1329.4" y="314.7" width="29.2" height="69.5" fill="#33a34f"/>
<rect x="1330.1" y="319.5" width="21.9" height="62.9" fill="#fcc2e2" stroke="#ffffff" stroke-width="2.0"/>
<text x="1341.1" y="348" font-size="11.5" fill="#000" text-anchor="middle">38</text>
<text x="1341.1" y="361.9" font-size="11.5" fill="#000" text-anchor="middle">栋</text>
<rect x="1322" y="390.4" width="36.6" height="202.2" fill="#33a34f"/>
<rect x="1314" y="397" width="34.7" height="53" fill="#fcc2e2" stroke="#ffffff" stroke-width="2.0"/>
<text x="1331.4" y="427.5" font-size="11.5" fill="#000" text-anchor="middle">48 栋</text>
<rect x="1320.2" y="461" width="23.8" height="53" fill="#fcc2e2" stroke="#ffffff" stroke-width="2.0"/>
<text x="1331.9" y="483.3" font-size="11.5" fill="#000" text-anchor="middle">配</text>
<text x="1331.9" y="496.4" font-size="11.5" fill="#000" text-anchor="middle">楼</text>
<rect x="1314" y="522" width="34.7" height="53.4" fill="#fcc2e2" stroke="#ffffff" stroke-width="2.0"/>
<text x="1331.4" y="552.7" font-size="11.5" fill="#000" text-anchor="middle">49 栋</text>
<rect x="447.9" y="610.5" width="26.5" height="26.2" fill="#33a34f"/>
<rect x="260.7" y="619.5" width="75.8" height="75.9" fill="#fbb56c" stroke="#ffffff" stroke-width="2.0"/>
<rect x="267.3" y="625.2" width="62.3" height="31" fill="none" stroke="#ffffff" stroke-width="2.0"/>
<rect x="332.9" y="685.7" width="78.3" height="30.7" fill="#fbb56c" stroke="#ffffff" stroke-width="2.0"/>
<rect x="296.8" y="762.2" width="77.3" height="25.9" fill="#fbb56c" stroke="#ffffff" stroke-width="2.0"/>
<polygon points="287.8,675.8 298.9,675.8 298.9,663.7 319.1,663.7 319.1,675.8 332.9,675.8 332.9,716.4 410.3,716.4 410.3,726.1 419.9,726.1 419.9,806.7 406.4,806.7 406.4,814.2 387.1,814.2 387.1,806.7 374.1,806.7 374.1,762.2 296.8,762.2 296.8,756.2 287.8,756.2" fill="#fbb56c" stroke="#ffffff" stroke-width="2.0"/>
<text x="348" y="742.6" font-size="10.5" fill="#000" text-anchor="middle" font-weight="400">天工大厦</text>
<rect x="371.7" y="615" width="27.1" height="14.1" fill="#fbb56c" stroke="#ffffff" stroke-width="2.0"/>
<rect x="398.8" y="615" width="35.5" height="14.1" fill="#fbb56c" stroke="#ffffff" stroke-width="2.0"/>
<text x="385.3" y="625.2" font-size="7.8" fill="#000" text-anchor="middle" font-weight="400">保卫处</text>
<text x="416.6" y="625.2" font-size="7.8" fill="#000" text-anchor="middle" font-weight="400">后勤集团</text>
<polygon points="371.7,640.6 441.3,640.6 441.3,715.2 426.2,715.2 426.2,656.2 371.7,656.2" fill="#fbb56c" stroke="#ffffff" stroke-width="2.0"/>
<text x="384.8" y="651.7" font-size="12" fill="#000" text-anchor="middle" font-weight="500">金</text>
<text x="402.2" y="651.7" font-size="12" fill="#000" text-anchor="middle" font-weight="500">物</text>
<text x="419.6" y="651.7" font-size="12" fill="#000" text-anchor="middle" font-weight="500">楼</text>
<text x="433.7" y="701.4" font-size="12.5" fill="#000" text-anchor="middle">⑭</text>
<rect x="448.1" y="610.5" width="91.8" height="6" fill="#33a34f"/>
<polygon points="475.8,615.6 539.9,615.6 539.9,656.8 525.7,656.8 525.7,636.7 511.3,636.7 511.3,653.2 496.2,653.2 496.2,636.7 475.8,636.7" fill="#fbb56c" stroke="#ffffff" stroke-width="2.0"/>
<text x="507.4" y="628.2" font-size="7.8" fill="#000" text-anchor="middle" font-weight="400">教工活动中心</text>
<polygon points="468.2,660.7 487.8,660.7 487.8,743.5 465.5,743.5 465.5,668.9" fill="#fbb56c" stroke="#ffffff" stroke-width="2.0"/>
<text x="476.1" y="678.2" font-size="12.5" fill="#000" text-anchor="middle">⑭</text>
<text x="476.7" y="698.4" font-size="11.5" fill="#000" text-anchor="middle" font-weight="500">腐</text>
<text x="476.7" y="712.2" font-size="11.5" fill="#000" text-anchor="middle" font-weight="500">蚀</text>
<text x="476.7" y="726.1" font-size="11.5" fill="#000" text-anchor="middle" font-weight="500">楼</text>
<rect x="495.3" y="667.4" width="32.5" height="42.1" fill="#33a34f"/>
<rect x="499.2" y="726.1" width="14.2" height="39.4" fill="#fbb56c" stroke="#ffffff" stroke-width="2.0"/>
<text x="506.5" y="739.3" font-size="8.5" fill="#000" text-anchor="middle" font-weight="400">印</text>
<text x="506.5" y="749.6" font-size="8.5" fill="#000" text-anchor="middle" font-weight="400">刷</text>
<text x="506.5" y="759.9" font-size="8.5" fill="#000" text-anchor="middle" font-weight="400">厂</text>
<rect x="455.6" y="755" width="38.2" height="25.2" fill="#fbb56c" stroke="#ffffff" stroke-width="2.0"/>
<text x="474.5" y="767" font-size="8.5" fill="#000" text-anchor="middle" font-weight="400">印刷厂</text>
<text x="474.5" y="776.6" font-size="8.5" fill="#000" text-anchor="middle" font-weight="400">车 间</text>
<polygon points="519.7,740.5 527.8,740.5 527.8,732.1 569.1,732.1 569.1,740.5 574.5,740.5 574.5,758.6 519.7,758.6" fill="#bfa07e" stroke="#ffffff" stroke-width="2.0"/>
<text x="546.2" y="751.6" font-size="9" fill="#000" text-anchor="middle">锅炉房</text>
<rect x="524.2" y="777.2" width="75.9" height="13.9" fill="#fbb56c" stroke="#ffffff" stroke-width="2.0"/>
<text x="558.5" y="787.2" font-size="8.5" fill="#000" text-anchor="middle" font-weight="400">后勤集团</text>
<path d="M551.9 617.7H611.5A14.1 14.1 0 0 1 612.1 646.0V659.8H551.9Z" fill="#bfa07e" stroke="#ffffff" stroke-width="2.0"/>
<text x="584.1" y="635.5" font-size="9.5" fill="#000" text-anchor="middle">鸿博园</text>
<text x="584.1" y="647.2" font-size="9.5" fill="#000" text-anchor="middle">餐  厅</text>
<polygon points="539,676.7 613,676.7 622.6,687.8 622.6,746.5 597.1,746.5 597.1,709.8 539,709.8" fill="#fbb56c" stroke="#ffffff" stroke-width="2.0"/>
<text x="580.5" y="697.8" font-size="12" fill="#000" text-anchor="middle">冶金生态楼</text>
<text x="610" y="733.3" font-size="13.1" fill="#000" text-anchor="middle">②</text>
<polyline points="504.3,834.4 504.3,803.1 631.7,803.1 631.7,834.4" fill="none" stroke="#5e3d1e" stroke-width="2"/>
<rect x="518.2" y="812.1" width="96.3" height="17.2" fill="#e6e6e6" stroke="#7c7c7c" stroke-width="2"/>
<text x="566.1" y="824.2" font-size="8.5" fill="#666" text-anchor="middle" font-weight="400" letter-spacing="1.8">科 群 大 厦</text>
<rect x="682.2" y="615.3" width="50.9" height="5.2" fill="#33a34f"/>
<rect x="654.9" y="643.2" width="5" height="36.4" fill="#33a34f"/>
<rect x="654.9" y="704.1" width="5" height="33.8" fill="#33a34f"/>
<rect x="680.8" y="658.3" width="4" height="21.3" fill="#33a34f"/>
<rect x="680.8" y="701.1" width="4" height="24.7" fill="#33a34f"/>
<rect x="706.1" y="635.8" width="27" height="4" fill="#33a34f"/>
<rect x="699.1" y="739.9" width="36.8" height="4.4" fill="#33a34f"/>
<rect x="686.8" y="762.2" width="51.1" height="7" fill="#33a34f"/>
<rect x="760.4" y="634.9" width="15.5" height="4.9" fill="#33a34f"/>
<rect x="794.2" y="634.9" width="37.8" height="4.9" fill="#33a34f"/>
<rect x="853.9" y="634.9" width="15" height="4.9" fill="#33a34f"/>
<rect x="760.4" y="739.9" width="15.5" height="4.4" fill="#33a34f"/>
<rect x="794.2" y="739.9" width="37.8" height="4.4" fill="#33a34f"/>
<rect x="853.9" y="739.9" width="15" height="4.4" fill="#33a34f"/>
<rect x="760.4" y="761.2" width="15.5" height="8" fill="#33a34f"/>
<rect x="794.2" y="759.8" width="37.8" height="9.4" fill="#33a34f"/>
<rect x="853.9" y="761.2" width="15" height="8" fill="#33a34f"/>
<rect x="756" y="652.2" width="9" height="75.8" fill="#33a34f"/>
<rect x="867.3" y="652.2" width="9.1" height="75.8" fill="#33a34f"/>
<polygon points="692.1,657.1 702.7,646.8 743.1,646.8 743.1,687 692.1,687" fill="#33a34f"/>
<polygon points="692.1,694 743.1,694 743.1,734.8 703.3,734.8 692.1,724" fill="#33a34f"/>
<rect x="898.6" y="615.3" width="44.3" height="3.6" fill="#33a34f"/>
<rect x="898.6" y="636.4" width="32.8" height="3.4" fill="#33a34f"/>
<rect x="972.2" y="644.2" width="4" height="27.4" fill="#33a34f"/>
<rect x="896.6" y="761.2" width="49.7" height="7.9" fill="#33a34f"/>
<rect x="972.2" y="703.5" width="4" height="28.8" fill="#33a34f"/>
<polygon points="892,646.4 914.5,646.4 914.5,664.7 920.5,664.7 920.5,646.4 932.4,646.4 942.9,657.1 942.9,687 892,687" fill="#33a34f"/>
<polygon points="892,693.9 942.9,693.9 942.9,724 932.4,734.7 892,734.7" fill="#33a34f"/>
<rect x="908.5" y="665.3" width="18.9" height="14.3" fill="#999" stroke="#ffffff" stroke-width="1.6"/>
<rect x="908.5" y="716.4" width="18.9" height="14.3" fill="#999" stroke="#ffffff" stroke-width="1.6"/>
<text x="917.9" y="668.7" font-size="12.5" fill="#111" text-anchor="middle" font-weight="400">㉓</text>
<text x="917.9" y="686.6" font-size="12.5" fill="#111" text-anchor="middle" font-weight="400">㉔</text>
<text x="917.9" y="736.1" font-size="12.5" fill="#111" text-anchor="middle" font-weight="400">㉕</text>
<polygon points="661.5,641.8 682.8,620.5 731.5,620.5 731.5,623.3 741.1,623.3 741.1,635.8 696.7,635.8 677.8,653.8 677.8,657.1 679.8,657.1 679.8,679 677.4,679 677.4,683.6 661.5,683.6" fill="#ffe500" stroke="#ffffff" stroke-width="2.0"/>
<polygon points="662.3,698.5 677.8,698.5 677.8,702.1 682.2,702.1 682.2,722.4 677.8,722.4 677.8,726.8 696.7,744.3 732.5,744.3 732.5,746.7 741.1,746.7 741.1,760.2 684.2,760.2 661.5,737.9 661.5,704.5 662.3,704.5" fill="#ffe500" stroke="#ffffff" stroke-width="2.0"/>
<text x="706.7" y="631.3" font-size="11.5" fill="#000" text-anchor="middle" font-weight="400">2 斋</text>
<text x="706.7" y="756.6" font-size="11.5" fill="#000" text-anchor="middle" font-weight="400">1 斋</text>
<rect x="765.4" y="632.9" width="5.9" height="5.9" fill="#ffe500" stroke="#ffffff" stroke-width="2.0"/>
<rect x="858.5" y="632.9" width="6.4" height="5.9" fill="#ffe500" stroke="#ffffff" stroke-width="2.0"/>
<polygon points="755.4,619.9 772.9,619.9 772.9,621.3 784.3,621.3 784.3,618.9 840,618.9 840,621.3 852.5,621.3 852.5,618.9 871.8,618.9 871.8,635.2 755.4,635.2" fill="#ffe500" stroke="#ffffff" stroke-width="2.0"/>
<text x="813.7" y="630.3" font-size="11.5" fill="#000" text-anchor="middle" font-weight="400">3 斋</text>
<polygon points="759,744.3 775.3,744.3 775.3,745.9 789.7,745.9 789.7,742.9 834,742.9 834,745.9 858.9,745.9 858.9,743.9 873.2,743.9 873.2,761.2 832.6,761.2 832.6,759.2 798.2,759.2 798.2,761.2 759,761.2" fill="#ffe500" stroke="#ffffff" stroke-width="2.0"/>
<text x="813.7" y="756.2" font-size="11.5" fill="#000" text-anchor="middle" font-weight="400">6  斋</text>
<polygon points="759.4,673.7 777.3,673.7 777.3,690.2 781.7,690.2 781.7,684.6 850,684.6 850,690.2 855.9,690.2 855.9,673.7 872.4,673.7 872.4,714.1 855.9,714.1 855.9,698.5 850,698.5 850,703.5 781.7,703.5 781.7,698.5 777.3,698.5 777.3,714.1 759.4,714.1" fill="#ffe500" stroke="#ffffff" stroke-width="2.0"/>
<text x="813.5" y="697.7" font-size="11.5" fill="#000" text-anchor="middle" font-weight="400">7 斋</text>
<text x="833.4" y="698.5" font-size="13" fill="#000" text-anchor="middle">⑮</text>
<text x="770.3" y="686.2" font-size="12.5" fill="#000" text-anchor="middle">⑯</text>
<polygon points="894.6,623.3 898.6,623.3 898.6,618.9 945.3,618.9 969.6,643.2 969.6,683 953.7,683 953.7,652.7 937.4,636.4 894.6,636.4" fill="#ffe500" stroke="#ffffff" stroke-width="2.0"/>
<polygon points="955.3,698.5 969.2,698.5 969.2,703.5 974.2,703.5 974.2,734.3 948.9,761.2 900.6,761.2 900.6,758.2 894,758.2 894,744.2 899.6,744.2 899.6,741.9 933.8,741.9 933.8,745.2 957.3,724.4 955.3,724.4" fill="#ffe500" stroke="#ffffff" stroke-width="2.0"/>
<text x="918.9" y="632.5" font-size="11.5" fill="#000" text-anchor="middle" font-weight="400">4 斋</text>
<text x="918.9" y="755.8" font-size="11.5" fill="#000" text-anchor="middle" font-weight="400">5 斋</text>
<rect x="970.2" y="672" width="12.5" height="12.2" fill="#0018f0" rx="1.5"/>
<text x="976.6" y="682.2" font-size="10.5" fill="#fff" text-anchor="middle" font-weight="bold">P</text>
<polyline points="988.7,711.4 988.7,704.9 980.3,694.1" fill="none" stroke="#0018f0" stroke-width="3.4" stroke-linejoin="round"/>
<polygon points="977.2,685.4 986.1,690.9 977.2,696.9 975.2,692.5" fill="#0018f0"/>
<polyline points="646.6,834.4 646.6,788.1 654.4,779.9 975.6,779.9 983.1,787.5 983.1,834.4" fill="none" stroke="#5e3d1e" stroke-width="2"/>
<polygon points="652,791.7 669.5,791.7 669.5,814.2 707.7,814.2 707.7,827.8 652,827.8" fill="#fbb56c" stroke="#ffffff" stroke-width="2.0"/>
<rect x="729.4" y="812.1" width="83.1" height="13.6" fill="#fbb56c" stroke="#ffffff" stroke-width="2.0"/>
<rect x="822.7" y="816.4" width="74.7" height="13.5" fill="#fbb56c" stroke="#ffffff" stroke-width="2.0"/>
<polygon points="919.3,817.3 958.5,817.3 958.5,793.2 973.5,793.2 973.5,829.3 919.3,829.3" fill="#fbb56c" stroke="#ffffff" stroke-width="2.0"/>
<text x="771.5" y="822.1" font-size="8" fill="#000" text-anchor="middle" font-weight="400" style="font-family:'Liberation Serif','Noto Serif CJK SC',serif">12 斋</text>
<text x="858.8" y="826.3" font-size="8" fill="#000" text-anchor="middle" font-weight="400" style="font-family:'Liberation Serif','Noto Serif CJK SC',serif">11 斋</text>
<text x="952.1" y="826.3" font-size="8" fill="#000" text-anchor="middle" font-weight="400" style="font-family:'Liberation Serif','Noto Serif CJK SC',serif">10 斋</text>
<polyline points="1055.5,754.9 1057.7,754.9 1057.7,682 999.7,682 999.7,724.8 1002.2,724.8" fill="none" stroke="#5e3d1e" stroke-width="2"/>
<polyline points="1002.2,735.9 999.7,735.9 999.7,777.1 1057.7,777.1 1057.7,761.2" fill="none" stroke="#5e3d1e" stroke-width="2"/>
<polyline points="1098,679.4 1209.9,679.4 1209.9,737.4 1098,737.4 1098,679.4" fill="none" stroke="#5e3d1e" stroke-width="2"/>
<polyline points="1209.9,715.2 1360.5,715.2" fill="none" stroke="#5e3d1e" stroke-width="2"/>
<polyline points="1209.9,737.4 1209.9,780.2 1196.2,808.8 1196.2,834.1" fill="none" stroke="#5e3d1e" stroke-width="2"/>
<polygon points="1010.1,615.4 1063.1,615.4 1063.1,625.5 1066.2,625.5 1066.2,671.8 1022.8,671.8 1022.8,669.3 1010.1,669.3" fill="#bfa07e" stroke="#ffffff" stroke-width="2.0"/>
<text x="1037.7" y="640.7" font-size="9.5" fill="#000" text-anchor="middle">万秀园</text>
<text x="1037.7" y="652.1" font-size="9.5" fill="#000" text-anchor="middle">餐  厅</text>
<rect x="1083.1" y="637.6" width="125.8" height="10.1" fill="#33a34f"/>
<rect x="1083.1" y="616" width="125.8" height="20" fill="#fcc2e2" stroke="#ffffff" stroke-width="2.0"/>
<text x="1148.1" y="629.6" font-size="11.5" fill="#000" text-anchor="middle">16 栋</text>
<rect x="1084.6" y="671.8" width="58.1" height="6.3" fill="#33a34f"/>
<rect x="1084.6" y="655" width="58.1" height="15.2" fill="#fcc2e2" stroke="#ffffff" stroke-width="2.0"/>
<text x="1109.4" y="666.4" font-size="11.5" fill="#000" text-anchor="middle">21 栋</text>
<rect x="1150.3" y="671.8" width="58.6" height="6.3" fill="#33a34f"/>
<rect x="1150.3" y="655" width="58.6" height="15.2" fill="#fcc2e2" stroke="#ffffff" stroke-width="2.0"/>
<text x="1180.4" y="666.4" font-size="11.5" fill="#000" text-anchor="middle">22 栋</text>
<rect x="1002.8" y="688.9" width="51.7" height="10.5" fill="#fbb56c" stroke="#ffffff" stroke-width="2.0"/>
<text x="1028.5" y="697.2" font-size="9.3" fill="#000" text-anchor="middle">博士后公寓</text>
<rect x="1002.8" y="760.3" width="51.7" height="10.4" fill="#fbb56c" stroke="#ffffff" stroke-width="2.0"/>
<text x="1028.5" y="768.5" font-size="9.3" fill="#000" text-anchor="middle">博士后公寓</text>
<rect x="1004.7" y="704.8" width="19.1" height="20" fill="#33a34f"/>
<rect x="1004.7" y="734.9" width="19.1" height="20" fill="#33a34f"/>
<rect x="1030.1" y="706.7" width="15.5" height="48.2" fill="#fbb56c" stroke="#ffffff" stroke-width="2.0"/>
<text x="1038" y="716.5" font-size="9" fill="#333" text-anchor="middle">研</text>
<text x="1038" y="727.8" font-size="9" fill="#333" text-anchor="middle">究</text>
<text x="1038" y="739.1" font-size="9" fill="#333" text-anchor="middle">生</text>
<text x="1038" y="750.4" font-size="9" fill="#333" text-anchor="middle">院</text>
<polygon points="1061.8,693.1 1091,693.1 1091,758.1 1061.8,758.1 1061.8,746 1075.8,746 1075.8,729.5 1061.8,729.5 1061.8,718.4 1075.8,718.4 1075.8,704.8 1061.8,704.8" fill="#bfa07e" stroke="#ffffff" stroke-width="2.0"/>
<text x="1083.7" y="717.5" font-size="9.5" fill="#000" text-anchor="middle">培</text>
<text x="1083.7" y="729.4" font-size="9.5" fill="#000" text-anchor="middle">训</text>
<text x="1083.7" y="741.3" font-size="9.5" fill="#000" text-anchor="middle">楼</text>
<polygon points="1106.2,691.5 1186.7,691.5 1186.7,708.3 1118.6,708.3 1118.6,731.1 1106.2,731.1" fill="#fbb56c" stroke="#ffffff" stroke-width="2.0"/>
<text x="1130" y="702.2" font-size="9.3" fill="#000" text-anchor="middle">专家公寓</text>
<text x="1163.3" y="704.7" font-size="12.5" fill="#000" text-anchor="middle">⑳</text>
<rect x="1129" y="713.7" width="53.3" height="21.2" fill="#33a34f"/>
<polygon points="1118.6,743.8 1177.2,743.8 1177.2,792.9 1156,792.9 1156,771.4 1144.9,759.6 1118.6,759.6" fill="#bfa07e" stroke="#ffffff" stroke-width="2.0"/>
<text x="1166.4" y="751.7" font-size="9.5" fill="#000" text-anchor="middle">会</text>
<text x="1166.4" y="763" font-size="9.5" fill="#000" text-anchor="middle">议</text>
<text x="1166.4" y="774.3" font-size="9.5" fill="#000" text-anchor="middle">中</text>
<text x="1166.4" y="785.6" font-size="9.5" fill="#000" text-anchor="middle">心</text>
<rect x="1180.4" y="787.5" width="12.7" height="45.1" fill="#33a34f"/>
<rect x="1102.1" y="821.5" width="91" height="11.1" fill="#33a34f"/>
<rect x="1107.5" y="800.2" width="70.7" height="21.3" fill="#bfa07e" stroke="#ffffff" stroke-width="2.0"/>
<text x="1142.3" y="814.5" font-size="9.5" fill="#000" text-anchor="middle">逸夫科技馆</text>
<rect x="1002.8" y="790.7" width="87.5" height="15.9" fill="#33a34f"/>
<rect x="1000.6" y="820.8" width="91" height="11.8" fill="#33a34f"/>
<polygon points="1016.5,794.5 1032.3,794.5 1032.3,808.1 1085.6,808.1 1085.6,825.3 1016.5,825.3" fill="#bfa07e" stroke="#ffffff" stroke-width="2.0"/>
<text x="1048.2" y="819.6" font-size="10" fill="#000" text-anchor="middle">校 医 院</text>
<rect x="1243.2" y="611.6" width="53.2" height="4.4" fill="#33a34f"/>
<polygon points="1251.1,639.1 1286,639.1 1286,648.7 1291.4,648.7 1291.4,674 1251.1,674" fill="#33a34f"/>
<polygon points="1230.5,618.5 1296.4,618.5 1296.4,631.9 1245.7,631.9 1245.7,655 1230.5,655" fill="#ffe500" stroke="#ffffff" stroke-width="2.0"/>
<polygon points="1230.5,656 1245.7,656 1245.7,680.4 1289.2,680.4 1289.2,685.1 1290.7,685.1 1290.7,700.3 1230.5,700.3" fill="#ffe500" stroke="#ffffff" stroke-width="2.0"/>
<text x="1248.2" y="628.7" font-size="11.5" fill="#000" text-anchor="middle">8 斋</text>
<text x="1248.2" y="695" font-size="11.5" fill="#000" text-anchor="middle">9 斋</text>
<rect x="1345.3" y="612.8" width="13.6" height="97.7" fill="#33a34f"/>
<rect x="1325.6" y="613.8" width="17.5" height="96.1" fill="#fcc2e2" stroke="#ffffff" stroke-width="2.0"/>
<text x="1334.5" y="656.6" font-size="11.5" fill="#000" text-anchor="middle">50</text>
<text x="1334.5" y="670.9" font-size="11.5" fill="#000" text-anchor="middle">栋</text>
<rect x="1224.8" y="727.9" width="123" height="92.6" fill="#999999" stroke="#ffffff" stroke-width="1.8"/>
<path d="M216 410.4H219.3Q233.9 414.1 235.6 435.5V471.8Q233.9 492 219.3 495.7H216Z" fill="#8d8d8d"/>
<path d="M384.7 62.7H219.3V410.4Q233.9 414.1 235.6 435.5" fill="none" stroke="#5e3d1e" stroke-width="3.9" stroke-linejoin="miter"/>
<path d="M235.6 471.8Q233.9 492 219.3 495.7V698.4L299.5 835H517.3" fill="none" stroke="#5e3d1e" stroke-width="3.9" stroke-linejoin="miter"/>
<path d="M450 62.7H458.4" fill="none" stroke="#5e3d1e" stroke-width="3.9" stroke-linejoin="miter"/>
<path d="M473.5 62.7H633V68.5" fill="none" stroke="#5e3d1e" stroke-width="3.9" stroke-linejoin="miter"/>
<path d="M646 68.5V62.7H1360.7V296" fill="none" stroke="#5e3d1e" stroke-width="3.9" stroke-linejoin="miter"/>
<path d="M1187 295.8H1361" fill="none" stroke="#5e3d1e" stroke-width="2.6" stroke-linejoin="miter"/>
<path d="M1352 309.5H1360.7V593H1352" fill="none" stroke="#5e3d1e" stroke-width="3.9" stroke-linejoin="miter"/>
<path d="M1352 610.5H1360.7V835H1102V829" fill="none" stroke="#5e3d1e" stroke-width="3.9" stroke-linejoin="miter"/>
<path d="M1092.6 829V835H999V829" fill="none" stroke="#5e3d1e" stroke-width="3.9" stroke-linejoin="miter"/>
<path d="M982.5 829V835H725.8V829" fill="none" stroke="#5e3d1e" stroke-width="3.9" stroke-linejoin="miter"/>
<path d="M712.2 829V835H647.6" fill="none" stroke="#5e3d1e" stroke-width="3.9" stroke-linejoin="miter"/>
<path d="M631 835H539.9" fill="none" stroke="#5e3d1e" stroke-width="3.9" stroke-linejoin="miter"/>
<text x="416" y="307.4" font-size="9.5" fill="#fff" text-anchor="middle" font-weight="400">园</text>
<text x="431.8" y="307.4" font-size="9.5" fill="#fff" text-anchor="middle" font-weight="400">丁</text>
<text x="447.6" y="307.4" font-size="9.5" fill="#fff" text-anchor="middle" font-weight="400">西</text>
<text x="463.4" y="307.4" font-size="9.5" fill="#fff" text-anchor="middle" font-weight="400">路</text>
<text x="813.2" y="307.4" font-size="9.5" fill="#fff" text-anchor="middle" font-weight="400">园</text>
<text x="829" y="307.4" font-size="9.5" fill="#fff" text-anchor="middle" font-weight="400">丁</text>
<text x="844.8" y="307.4" font-size="9.5" fill="#fff" text-anchor="middle" font-weight="400">路</text>
<text x="1177.3" y="307.4" font-size="9.5" fill="#fff" text-anchor="middle" font-weight="400">园</text>
<text x="1193.1" y="307.4" font-size="9.5" fill="#fff" text-anchor="middle" font-weight="400">丁</text>
<text x="1208.9" y="307.4" font-size="9.5" fill="#fff" text-anchor="middle" font-weight="400">东</text>
<text x="1224.7" y="307.4" font-size="9.5" fill="#fff" text-anchor="middle" font-weight="400">路</text>
<text x="416.8" y="605.9" font-size="9.5" fill="#fff" text-anchor="middle" font-weight="400">学</text>
<text x="432.6" y="605.9" font-size="9.5" fill="#fff" text-anchor="middle" font-weight="400">子</text>
<text x="448.4" y="605.9" font-size="9.5" fill="#fff" text-anchor="middle" font-weight="400">西</text>
<text x="464.2" y="605.9" font-size="9.5" fill="#fff" text-anchor="middle" font-weight="400">路</text>
<text x="813.2" y="605.9" font-size="9.5" fill="#fff" text-anchor="middle" font-weight="400">学</text>
<text x="829" y="605.9" font-size="9.5" fill="#fff" text-anchor="middle" font-weight="400">子</text>
<text x="844.8" y="605.9" font-size="9.5" fill="#fff" text-anchor="middle" font-weight="400">路</text>
<text x="1177.3" y="605.9" font-size="9.5" fill="#fff" text-anchor="middle" font-weight="400">学</text>
<text x="1193.1" y="605.9" font-size="9.5" fill="#fff" text-anchor="middle" font-weight="400">子</text>
<text x="1208.9" y="605.9" font-size="9.5" fill="#fff" text-anchor="middle" font-weight="400">东</text>
<text x="1224.7" y="605.9" font-size="9.5" fill="#fff" text-anchor="middle" font-weight="400">路</text>
<text x="639.8" y="155.5" font-size="10" fill="#fff" text-anchor="middle" font-weight="400">图</text>
<text x="639.8" y="171.5" font-size="10" fill="#fff" text-anchor="middle" font-weight="400">书</text>
<text x="639.8" y="187.1" font-size="10" fill="#fff" text-anchor="middle" font-weight="400">馆</text>
<text x="639.8" y="202.8" font-size="10" fill="#fff" text-anchor="middle" font-weight="400">北</text>
<text x="639.8" y="217.8" font-size="10" fill="#fff" text-anchor="middle" font-weight="400">路</text>
<text x="991.1" y="155" font-size="10" fill="#fff" text-anchor="middle" font-weight="400">体</text>
<text x="991.1" y="170.6" font-size="10" fill="#fff" text-anchor="middle" font-weight="400">育</text>
<text x="991.1" y="186.8" font-size="10" fill="#fff" text-anchor="middle" font-weight="400">馆</text>
<text x="991.1" y="202.6" font-size="10" fill="#fff" text-anchor="middle" font-weight="400">北</text>
<text x="991.1" y="217.5" font-size="10" fill="#fff" text-anchor="middle" font-weight="400">路</text>
<text x="639.3" y="426.1" font-size="10" fill="#fff" text-anchor="middle" font-weight="400">图</text>
<text x="639.3" y="441.6" font-size="10" fill="#fff" text-anchor="middle" font-weight="400">书</text>
<text x="639.3" y="457.8" font-size="10" fill="#fff" text-anchor="middle" font-weight="400">馆</text>
<text x="639.3" y="473.3" font-size="10" fill="#fff" text-anchor="middle" font-weight="400">路</text>
<text x="1130.2" y="426.1" font-size="10" fill="#fff" text-anchor="middle" font-weight="400">体</text>
<text x="1130.2" y="441.6" font-size="10" fill="#fff" text-anchor="middle" font-weight="400">育</text>
<text x="1130.2" y="457.8" font-size="10" fill="#fff" text-anchor="middle" font-weight="400">馆</text>
<text x="1130.2" y="473.3" font-size="10" fill="#fff" text-anchor="middle" font-weight="400">路</text>
<text x="639.8" y="692.9" font-size="10" fill="#fff" text-anchor="middle" font-weight="400">图</text>
<text x="639.8" y="708.9" font-size="10" fill="#fff" text-anchor="middle" font-weight="400">书</text>
<text x="639.8" y="724.5" font-size="10" fill="#fff" text-anchor="middle" font-weight="400">馆</text>
<text x="639.8" y="740.2" font-size="10" fill="#fff" text-anchor="middle" font-weight="400">南</text>
<text x="639.8" y="756.1" font-size="10" fill="#fff" text-anchor="middle" font-weight="400">路</text>
<text x="991.1" y="693.5" font-size="10" fill="#fff" text-anchor="middle" font-weight="400">体</text>
<text x="991.1" y="709.3" font-size="10" fill="#fff" text-anchor="middle" font-weight="400">育</text>
<text x="991.1" y="724.6" font-size="10" fill="#fff" text-anchor="middle" font-weight="400">馆</text>
<text x="991.1" y="740.1" font-size="10" fill="#fff" text-anchor="middle" font-weight="400">南</text>
<text x="991.1" y="755.9" font-size="10" fill="#fff" text-anchor="middle" font-weight="400">路</text>
<text x="640.7" y="57.5" font-size="16" fill="#111" text-anchor="middle" font-weight="500">北 门</text>
<text x="215.4" y="446.2" font-size="18" fill="#111" text-anchor="middle" font-weight="500">西</text>
<text x="215.4" y="475.5" font-size="18" fill="#111" text-anchor="middle" font-weight="500">门</text>
<text x="1375.7" y="292.2" font-size="13" fill="#111" text-anchor="middle" font-weight="400">东</text>
<text x="1375.7" y="306.7" font-size="13" fill="#111" text-anchor="middle" font-weight="400">北</text>
<text x="1375.7" y="321.3" font-size="13" fill="#111" text-anchor="middle" font-weight="400">门</text>
<text x="1375.8" y="597.8" font-size="14.5" fill="#111" text-anchor="middle" font-weight="400">东</text>
<text x="1375.8" y="617.9" font-size="14.5" fill="#111" text-anchor="middle" font-weight="400">门</text>
<text x="639.2" y="852.5" font-size="12.5" fill="#111" text-anchor="middle" font-weight="400">南3门</text>
<text x="986.2" y="852.5" font-size="12.5" fill="#111" text-anchor="middle" font-weight="400">南2门</text>
<text x="1098.9" y="850.5" font-size="12.5" fill="#111" text-anchor="middle" font-weight="400">南1门</text>
<text x="204.8" y="517.2" font-size="16.5" fill="#96601e" text-anchor="middle" font-weight="500">学</text>
<text x="204.8" y="558.2" font-size="16.5" fill="#96601e" text-anchor="middle" font-weight="500">院</text>
<text x="204.8" y="598.8" font-size="16.5" fill="#96601e" text-anchor="middle" font-weight="500">路</text>
<text x="1378" y="398.5" font-size="16.5" fill="#96601e" text-anchor="middle" font-weight="500">志</text>
<text x="1378" y="438.4" font-size="16.5" fill="#96601e" text-anchor="middle" font-weight="500">新</text>
<text x="1378" y="477.8" font-size="16.5" fill="#96601e" text-anchor="middle" font-weight="500">西</text>
<text x="1378" y="518" font-size="16.5" fill="#96601e" text-anchor="middle" font-weight="500">路</text>
<text x="911.8" y="57" font-size="16.5" fill="#96601e" text-anchor="middle" font-weight="500">志</text>
<text x="945.5" y="57" font-size="16.5" fill="#96601e" text-anchor="middle" font-weight="500">新</text>
<text x="978.6" y="57" font-size="16.5" fill="#96601e" text-anchor="middle" font-weight="500">路</text>
<text x="788.1" y="860.2" font-size="17.5" fill="#96601e" text-anchor="middle" font-weight="500">北</text>
<text x="822.1" y="860.2" font-size="17.5" fill="#96601e" text-anchor="middle" font-weight="500">四</text>
<text x="856.1" y="860.2" font-size="17.5" fill="#96601e" text-anchor="middle" font-weight="500">环</text>
<text x="889.8" y="860.2" font-size="17.5" fill="#96601e" text-anchor="middle" font-weight="500">中</text>
<text x="922.9" y="860.2" font-size="17.5" fill="#96601e" text-anchor="middle" font-weight="500">路</text>
<text x="238.1" y="824" font-size="17.5" fill="#333" text-anchor="middle" font-weight="300">学院桥</text>
<g transform="translate(683.7 51) scale(1.0)" fill="#fff"><path d="M-6.200 -3.500a4.500 4.500 0 0 1 4.500-4.500h3.400a4.500 4.500 0 0 1 4.500 4.500v8.500a1 1 0 0 1-1 1h-10.400a1 1 0 0 1-1-1z"/><rect x="-5.200" y="5" width="2.800" height="3.200" rx="0.6"/><rect x="2.400" y="5" width="2.800" height="3.200" rx="0.600"/><path d="M-4.700 -2.800a2.800 2.800 0 0 1 2.800-2.800h3.800a2.800 2.800 0 0 1 2.800 2.800v2.300h-9.400z" fill="#8d8d8d"/><circle cx="-3.600" cy="3" r="1" fill="#8d8d8d"/><circle cx="3.600" cy="3" r="1" fill="#8d8d8d"/></g>
<g transform="translate(203.5 212.7) scale(1.0)" fill="#fff"><path d="M-6.200 -3.500a4.500 4.500 0 0 1 4.500-4.500h3.400a4.500 4.500 0 0 1 4.500 4.500v8.500a1 1 0 0 1-1 1h-10.400a1 1 0 0 1-1-1z"/><rect x="-5.200" y="5" width="2.800" height="3.200" rx="0.6"/><rect x="2.400" y="5" width="2.800" height="3.200" rx="0.600"/><path d="M-4.700 -2.800a2.800 2.800 0 0 1 2.800-2.800h3.800a2.800 2.800 0 0 1 2.800 2.800v2.300h-9.400z" fill="#8d8d8d"/><circle cx="-3.600" cy="3" r="1" fill="#8d8d8d"/><circle cx="3.600" cy="3" r="1" fill="#8d8d8d"/></g>
<g transform="translate(350.7 850) scale(1.0)" fill="#fff"><path d="M-6.200 -3.500a4.500 4.500 0 0 1 4.500-4.500h3.400a4.500 4.500 0 0 1 4.500 4.500v8.500a1 1 0 0 1-1 1h-10.400a1 1 0 0 1-1-1z"/><rect x="-5.200" y="5" width="2.800" height="3.200" rx="0.6"/><rect x="2.400" y="5" width="2.800" height="3.200" rx="0.600"/><path d="M-4.700 -2.800a2.800 2.800 0 0 1 2.800-2.800h3.800a2.800 2.800 0 0 1 2.800 2.800v2.300h-9.400z" fill="#8d8d8d"/><circle cx="-3.600" cy="3" r="1" fill="#8d8d8d"/><circle cx="3.600" cy="3" r="1" fill="#8d8d8d"/></g>
<text x="695.6" y="54.6" font-size="8.4" fill="#fff" font-weight="400">86</text>
<text x="709.5" y="54.6" font-size="8.4" fill="#fff" font-weight="400">307</text>
<text x="728.8" y="54.6" font-size="8.4" fill="#fff" font-weight="400">484</text>
<text x="747.7" y="54.6" font-size="8.4" fill="#fff" font-weight="400">617</text>
<text x="766.7" y="54.6" font-size="8.4" fill="#fff" font-weight="400">630</text>
<text x="786.2" y="54.6" font-size="8.4" fill="#fff" font-weight="400">690</text>
<text x="805.7" y="54.6" font-size="8.4" fill="#fff" font-weight="400">848</text>
<text x="824.7" y="54.6" font-size="8.4" fill="#fff" font-weight="400">928</text>
<text x="204" y="230" font-size="6.6" fill="#fff" text-anchor="middle" font-weight="400">运通103</text>
<text x="204" y="240.2" font-size="8" fill="#fff" text-anchor="middle" font-weight="400">26</text>
<text x="204" y="250.3" font-size="8" fill="#fff" text-anchor="middle" font-weight="400">85</text>
<text x="204" y="260.4" font-size="8" fill="#fff" text-anchor="middle" font-weight="400">331</text>
<text x="204" y="270.6" font-size="8" fill="#fff" text-anchor="middle" font-weight="400">375</text>
<text x="204" y="280.8" font-size="8" fill="#fff" text-anchor="middle" font-weight="400">392</text>
<text x="204" y="290.9" font-size="8" fill="#fff" text-anchor="middle" font-weight="400">438</text>
<text x="204" y="301.1" font-size="8" fill="#fff" text-anchor="middle" font-weight="400">478</text>
<text x="204" y="311.2" font-size="8" fill="#fff" text-anchor="middle" font-weight="400">484</text>
<text x="204" y="321.4" font-size="8" fill="#fff" text-anchor="middle" font-weight="400">490</text>
<text x="204" y="331.5" font-size="8" fill="#fff" text-anchor="middle" font-weight="400">562</text>
<text x="204" y="341.7" font-size="8" fill="#fff" text-anchor="middle" font-weight="400">609</text>
<text x="204" y="351.8" font-size="8" fill="#fff" text-anchor="middle" font-weight="400">617</text>
<text x="204" y="361.9" font-size="8" fill="#fff" text-anchor="middle" font-weight="400">632</text>
<text x="204" y="372.1" font-size="8" fill="#fff" text-anchor="middle" font-weight="400">656</text>
<text x="204" y="382.2" font-size="8" fill="#fff" text-anchor="middle" font-weight="400">693</text>
<text x="204" y="392.4" font-size="8" fill="#fff" text-anchor="middle" font-weight="400">753</text>
<text x="204" y="402.6" font-size="8" fill="#fff" text-anchor="middle" font-weight="400">928</text>
<text x="364.1" y="849.3" font-size="8.4" fill="#fff" font-weight="400">运通109</text>
<text x="401" y="849.3" font-size="8.4" fill="#fff" font-weight="400">运通113</text>
<text x="436.8" y="849.3" font-size="8.4" fill="#fff" font-weight="400">特9</text>
<text x="454.8" y="849.3" font-size="8.4" fill="#fff" font-weight="400">47</text>
<text x="469" y="849.3" font-size="8.4" fill="#fff" font-weight="400">386</text>
<text x="488.5" y="849.3" font-size="8.4" fill="#fff" font-weight="400">656</text>
<text x="364.1" y="859.1" font-size="8.4" fill="#fff" font-weight="400">660</text>
<text x="383.7" y="859.1" font-size="8.4" fill="#fff" font-weight="400">696</text>
<text x="403.2" y="859.1" font-size="8.4" fill="#fff" font-weight="400">740外</text>
<text x="430.7" y="859.1" font-size="8.4" fill="#fff" font-weight="400">751</text>
<text x="450" y="859.1" font-size="8.4" fill="#fff" font-weight="400">753</text>
<text x="469" y="859.1" font-size="8.4" fill="#fff" font-weight="400">928</text>
<text x="488.5" y="859.1" font-size="8.4" fill="#fff" font-weight="400">944</text>
<text x="507.8" y="859.1" font-size="8.4" fill="#fff" font-weight="400">983</text>
<text x="1360.5" y="851" font-size="5.8" fill="#fff" text-anchor="end" font-weight="400" style="font-family:Liberation Serif, Noto Serif CJK SC, serif">2011年12月11日更新</text>
<path d="M1287 846.3l3.5 3-3.5 3M1291 846.3l3.5 3-3.5 3M1295 846l4.5 3.300-4.5 3.300" fill="none" stroke="#fff" stroke-width="1.2"/>
<ellipse cx="519.7" cy="357.4" rx="36.7" ry="40.1" fill="none" stroke="#f3221b" stroke-width="7"/>
<polygon points="240.7,303.5 250.7,320 244.6,316.5 240.5,461 236.8,316.5 231.4,320" fill="#fdb813"/>
<polygon points="459,302 442.2,293 447.5,298.6 260.3,302.3 447.5,305.6 442.2,312.6" fill="#fdb813"/>
<polygon points="477.3,370.8 467.3,354 474.2,358.5 477.3,300 480.4,358.5 486.6,354" fill="#fdb813"/>
<polygon points="509.2,389.1 492.4,380.3 497,386.2 473.5,387.3 497,392.2 492.4,398.4" fill="#fdb813"/>
<g fill="none" stroke="#1b5ba6">
<circle cx="87" cy="94.7" r="37.600" stroke-width="1.800"/>
<circle cx="87" cy="94.7" r="27.500" stroke-width="0.800"/>
</g>
<defs><path id="lgT" d="M63.1 79.8A28.200 28.200 0 0 1 110.9 79.8"/><path id="lgB" d="M58.6 74.8A34.700 34.700 0 1 0 115.4 74.8"/></defs>
<text font-size="6.300" fill="#1b5ba6" font-weight="900" style="font-family:'Noto Serif CJK SC','Liberation Serif',serif;font-style:italic" letter-spacing="2.400"><textPath href="#lgT" startOffset="50%" text-anchor="middle">北京科技大学</textPath></text>
<text font-size="4.800" fill="#1b5ba6" font-weight="bold" textLength="148" lengthAdjust="spacingAndGlyphs"><textPath href="#lgB" startOffset="0" textLength="148" lengthAdjust="spacingAndGlyphs">UNIVERSITY OF SCIENCE · 1952 · AND TECHNOLOGY BEIJING</textPath></text>
<polygon points="67.7,77.1 74,77.1 75.1,86.7 70.2,86.7" fill="#1b5ba6"/>
<polygon points="106.3,77.1 100,77.1 98.9,86.7 103.8,86.7" fill="#1b5ba6"/>
<polygon points="69.7,79.1 72,79.1 72.7,84.2 70.8,84.2" fill="#fff"/>
<polygon points="104.3,79.1 102,79.1 101.3,84.2 103.2,84.2" fill="#fff"/>
<rect x="68.4" y="82.9" width="37.2" height="4.6" fill="#1b5ba6" rx="0.6"/>
<rect x="71" y="84.5" width="32" height="0.8" fill="#fff"/>
<rect x="69.3" y="87.4" width="35.4" height="18.8" fill="#1b5ba6"/>
<rect x="72.2" y="90.4" width="29.6" height="11.8" fill="#fff"/>
<rect x="72.2" y="106.1" width="9.8" height="11.8" fill="#1b5ba6"/>
<rect x="92.2" y="106.1" width="9.8" height="11.8" fill="#1b5ba6"/>
<rect x="75.3" y="108.3" width="3.6" height="9.6" fill="#fff"/>
<rect x="95.3" y="108.3" width="3.6" height="9.6" fill="#fff"/>
<rect x="70.2" y="107.7" width="2" height="4.8" fill="#1b5ba6"/>
<rect x="102" y="107.7" width="2" height="4.8" fill="#1b5ba6"/>
<text x="87" y="99.9" font-size="9.2" fill="#1b5ba6" text-anchor="middle" font-weight="900" style="font-family:'Noto Serif CJK SC','Liberation Serif',serif" textLength="28.5" lengthAdjust="spacingAndGlyphs">鼎新笃行</text>
<text x="100.3" y="179" font-size="36" fill="#1b5ba6" text-anchor="middle" font-weight="900" style="font-family:'Noto Serif CJK SC','Liberation Serif',serif" transform="translate(100.3 166) skewX(-14) rotate(-4) scale(0.88 1) translate(-100.3 -166)">北</text>
<text x="100.3" y="224.3" font-size="37" fill="#1b5ba6" text-anchor="middle" font-weight="900" style="font-family:'Noto Serif CJK SC','Liberation Serif',serif" transform="translate(100.3 211) skewX(-14) rotate(-4) scale(0.88 1) translate(-100.3 -211)">京</text>
<text x="100.3" y="279.5" font-size="39" fill="#1b5ba6" text-anchor="middle" font-weight="900" style="font-family:'Noto Serif CJK SC','Liberation Serif',serif" transform="translate(100.3 265.5) skewX(-14) rotate(-4) scale(0.88 1) translate(-100.3 -265.5)">科</text>
<text x="100.3" y="329" font-size="39" fill="#1b5ba6" text-anchor="middle" font-weight="900" style="font-family:'Noto Serif CJK SC','Liberation Serif',serif" transform="translate(100.3 315) skewX(-14) rotate(-4) scale(0.88 1) translate(-100.3 -315)">技</text>
<text x="100.3" y="376" font-size="36" fill="#1b5ba6" text-anchor="middle" font-weight="900" style="font-family:'Noto Serif CJK SC','Liberation Serif',serif" transform="translate(100.3 363) skewX(-14) rotate(-4) scale(0.88 1) translate(-100.3 -363)">大</text>
<text x="100.3" y="418" font-size="36" fill="#1b5ba6" text-anchor="middle" font-weight="900" style="font-family:'Noto Serif CJK SC','Liberation Serif',serif" transform="translate(100.3 405) skewX(-14) rotate(-4) scale(0.88 1) translate(-100.3 -405)">学</text>
<text transform="translate(58.4 152) rotate(90)" font-size="14.2" font-weight="400" fill="#1b5ba6" textLength="269" lengthAdjust="spacingAndGlyphs">University of Science &amp; Technology Beijing</text>
<text x="85.7" y="517.8" font-size="61" fill="#0f4c8f" text-anchor="middle" font-weight="400">校</text>
<text x="85.7" y="583.5" font-size="61" fill="#0f4c8f" text-anchor="middle" font-weight="400">园</text>
<text x="85.7" y="649.3" font-size="61" fill="#0f4c8f" text-anchor="middle" font-weight="400">平</text>
<text x="85.7" y="720.4" font-size="61" fill="#0f4c8f" text-anchor="middle" font-weight="400">面</text>
<text x="85.7" y="786.2" font-size="61" fill="#0f4c8f" text-anchor="middle" font-weight="400">图</text>
<rect x="52.1" y="858.9" width="9.2" height="5.2" fill="#fbb56c"/>
<text x="67.5" y="864.5" font-size="8.2" fill="#444" font-weight="300" textLength="59.8">教学科研办公区</text>
<rect x="52.1" y="869.4" width="9.2" height="5.2" fill="#ffe500"/>
<text x="67.5" y="875" font-size="8.2" fill="#444" font-weight="300" textLength="59.8">学生宿舍区</text>
<rect x="52.1" y="879.8" width="9.2" height="5.2" fill="#fcc2e2"/>
<text x="67.5" y="885.4" font-size="8.2" fill="#444" font-weight="300" textLength="59.8">家属宿舍区</text>
<rect x="52.1" y="890.2" width="9.2" height="5.3" fill="#a5c4e0"/>
<text x="67.5" y="895.9" font-size="8.2" fill="#444" font-weight="300" textLength="59.8">体育场馆区</text>
<rect x="52.1" y="900.7" width="9.2" height="5.2" fill="#bfa07e"/>
<text x="67.5" y="906.3" font-size="8.2" fill="#444" font-weight="300" textLength="59.8">后勤服务区</text>
<circle cx="1412.900" cy="23" r="14" fill="#6a6a6a"/>
<g transform="translate(1412.900 23)" fill="none" stroke="#fff" stroke-width="1.500" stroke-linecap="round" stroke-linejoin="round"><path d="M-7 -3V-5.200a1.800 1.800 0 0 1 1.800-1.800H-3M3 -7h2.200a1.800 1.800 0 0 1 1.800 1.800V-3M7 3v2.200a1.800 1.800 0 0 1-1.800 1.800H3M-3 7h-2.200a1.800 1.800 0 0 1-1.800-1.800V3"/><path d="M-3.400 -2.200H3.400M-2.300 -2.200L2.600 3.200l1.600 0.500M2.300 -2.200L-2.600 3.200l-1.600 0.500M0 -4.200v0.100" stroke-width="1.200"/></g>
<text x="194.3" y="886.3" font-size="10.4" fill="#1a1a1a" font-weight="400">①</text>
<text x="203.9" y="885.3" font-size="8" fill="#1a1a1a" font-weight="400" textLength="133.9" lengthAdjust="spacingAndGlyphs">土木与环境工程学院／CEE管理中心</text>
<text x="345.5" y="886.3" font-size="10.4" fill="#1a1a1a" font-weight="400">②</text>
<text x="355.1" y="885.3" font-size="8" fill="#1a1a1a" font-weight="400" textLength="78.1" lengthAdjust="spacingAndGlyphs">冶金与生态工程学院</text>
<text x="442.8" y="886.3" font-size="10.4" fill="#1a1a1a" font-weight="400">③</text>
<text x="452.4" y="885.3" font-size="8" fill="#1a1a1a" font-weight="400" textLength="75.8" lengthAdjust="spacingAndGlyphs">材料科学与工程学院</text>
<text x="537.8" y="886.3" font-size="10.4" fill="#1a1a1a" font-weight="400">④</text>
<text x="547.4" y="885.3" font-size="8" fill="#1a1a1a" font-weight="400" textLength="52.8" lengthAdjust="spacingAndGlyphs">机械工程学院</text>
<text x="609.1" y="886.3" font-size="10.4" fill="#1a1a1a" font-weight="400">⑤</text>
<text x="618.7" y="885.3" font-size="8" fill="#1a1a1a" font-weight="400" textLength="135.9" lengthAdjust="spacingAndGlyphs">自动化学院／计算机与通信工程学院</text>
<text x="764.6" y="886.3" font-size="10.4" fill="#1a1a1a" font-weight="400">⑥</text>
<text x="774.2" y="885.3" font-size="8" fill="#1a1a1a" font-weight="400" textLength="35.3" lengthAdjust="spacingAndGlyphs">数理学院</text>
<text x="818.4" y="886.3" font-size="10.4" fill="#1a1a1a" font-weight="400">⑦</text>
<text x="828" y="885.3" font-size="8" fill="#1a1a1a" font-weight="400" textLength="77.5" lengthAdjust="spacingAndGlyphs">化学与生物工程学院</text>
<text x="915.1" y="886.3" font-size="10.4" fill="#1a1a1a" font-weight="400">⑧</text>
<text x="924.7" y="885.3" font-size="8" fill="#1a1a1a" font-weight="400" textLength="52.5" lengthAdjust="spacingAndGlyphs">经济管理学院</text>
<text x="987" y="886.3" font-size="10.4" fill="#1a1a1a" font-weight="400">⑨</text>
<text x="996.6" y="885.3" font-size="8" fill="#1a1a1a" font-weight="400" textLength="34.9" lengthAdjust="spacingAndGlyphs">文法学院</text>
<text x="1040.9" y="886.3" font-size="10.4" fill="#1a1a1a" font-weight="400">⑩</text>
<text x="1050.5" y="885.3" font-size="8" fill="#1a1a1a" font-weight="400" textLength="43" lengthAdjust="spacingAndGlyphs">外国语学院</text>
<text x="1103.8" y="886.3" font-size="10.4" fill="#1a1a1a" font-weight="400">⑪</text>
<text x="1113.4" y="885.3" font-size="8" fill="#1a1a1a" font-weight="400" textLength="68.1" lengthAdjust="spacingAndGlyphs">工程训练中心(西)</text>
<text x="1183.8" y="886.3" font-size="10.4" fill="#1a1a1a" font-weight="400">⑫</text>
<text x="1193.4" y="885.3" font-size="8" fill="#1a1a1a" font-weight="400" textLength="25.6" lengthAdjust="spacingAndGlyphs">体育部</text>
<text x="1229.7" y="886.3" font-size="10.4" fill="#1a1a1a" font-weight="400">⑬</text>
<text x="1239.3" y="885.3" font-size="8" fill="#1a1a1a" font-weight="400" textLength="147.2" lengthAdjust="spacingAndGlyphs">高效轧制国家工程中心/冶金工程研究院</text>
<text x="194.3" y="901.8" font-size="10.4" fill="#1a1a1a" font-weight="400">⑭</text>
<text x="203.9" y="900.8" font-size="8" fill="#1a1a1a" font-weight="400" textLength="69.3" lengthAdjust="spacingAndGlyphs">新材料技术研究院</text>
<text x="282.9" y="901.8" font-size="10.4" fill="#1a1a1a" font-weight="400">⑮</text>
<text x="292.5" y="900.8" font-size="8" fill="#1a1a1a" font-weight="400" textLength="127.3" lengthAdjust="spacingAndGlyphs">研究生工作部/团委/学生活动中心</text>
<text x="426.3" y="901.8" font-size="10.4" fill="#1a1a1a" font-weight="400">⑯</text>
<text x="435.9" y="900.8" font-size="8" fill="#1a1a1a" font-weight="400" textLength="42.6" lengthAdjust="spacingAndGlyphs">招生就业处</text>
<text x="486" y="901.8" font-size="10.4" fill="#1a1a1a" font-weight="400">⑰</text>
<text x="495.6" y="900.8" font-size="8" fill="#1a1a1a" font-weight="400" textLength="91.6" lengthAdjust="spacingAndGlyphs">宣传部|新闻中心/校史馆</text>
<text x="593.1" y="901.8" font-size="10.4" fill="#1a1a1a" font-weight="400">⑱</text>
<text x="602.7" y="900.8" font-size="8" fill="#1a1a1a" font-weight="400" textLength="101.5" lengthAdjust="spacingAndGlyphs">新金属材料国家重点实验室</text>
<text x="710.6" y="901.8" font-size="10.4" fill="#1a1a1a" font-weight="400">⑲</text>
<text x="720.2" y="900.8" font-size="8" fill="#1a1a1a" font-weight="400" textLength="50.1" lengthAdjust="spacingAndGlyphs">零件轧制中心</text>
<text x="777.6" y="901.8" font-size="10.4" fill="#1a1a1a" font-weight="400">⑳</text>
<text x="787.2" y="900.8" font-size="8" fill="#1a1a1a" font-weight="400" textLength="122" lengthAdjust="spacingAndGlyphs">国际交流与合作处|港澳台办公室</text>
<text x="915.1" y="901.8" font-size="10.4" fill="#1a1a1a" font-weight="400">㉑</text>
<text x="924.7" y="900.8" font-size="8" fill="#1a1a1a" font-weight="400" textLength="106.5" lengthAdjust="spacingAndGlyphs">学术报告厅/校园卡管理中心</text>
<text x="1040.9" y="901.8" font-size="10.4" fill="#1a1a1a" font-weight="400">㉒</text>
<text x="1050.5" y="900.8" font-size="8" fill="#1a1a1a" font-weight="400" textLength="76.5" lengthAdjust="spacingAndGlyphs">离退休干部活动中心</text>
<text x="1135.3" y="901.8" font-size="10.4" fill="#1a1a1a" font-weight="400">㉓</text>
<text x="1141.9" y="901.8" font-size="10.4" fill="#1a1a1a" font-weight="400">㉔</text>
<text x="1148.5" y="901.8" font-size="10.4" fill="#1a1a1a" font-weight="400">㉕</text>
<text x="1158.1" y="900.8" font-size="8" fill="#1a1a1a" font-weight="400" textLength="133.4" lengthAdjust="spacingAndGlyphs">机动车地下停车场行人1.2.3出入口</text>
<text x="1297.1" y="901.8" font-size="10.4" fill="#1a1a1a" font-weight="400">㉖</text>
<text x="1306.7" y="900.8" font-size="8" fill="#1a1a1a" font-weight="400" textLength="26.8" lengthAdjust="spacingAndGlyphs">档案馆</text>
<text x="1339.8" y="901.8" font-size="10.4" fill="#1a1a1a" font-weight="400">㉗</text>
<text x="1349.4" y="900.8" font-size="8" fill="#1a1a1a" font-weight="400" textLength="34.8" lengthAdjust="spacingAndGlyphs">期刊中心</text>
</svg>
</body></html>
